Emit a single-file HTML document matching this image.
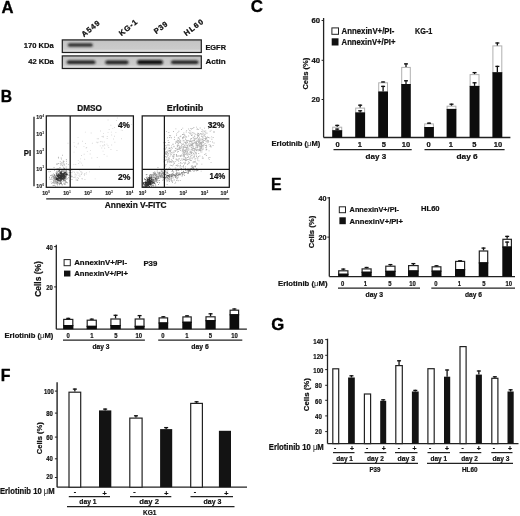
<!DOCTYPE html>
<html><head><meta charset="utf-8"><title>Figure</title>
<style>html,body{margin:0;padding:0;background:#fff;}svg{display:block;}text{font-family:"Liberation Sans", Arial, Helvetica, sans-serif;stroke-linejoin:round;}</style>
</head><body>
<svg width="520" height="516" viewBox="0 0 520 516">
<rect width="520" height="516" fill="#fff"/>
<defs><linearGradient id="blot" x1="0" y1="0" x2="0" y2="1"><stop offset="0" stop-color="#bdbdbd"/><stop offset="0.2" stop-color="#c6c6c6"/><stop offset="0.72" stop-color="#cbcbcb"/><stop offset="0.86" stop-color="#dcdcdc"/><stop offset="1" stop-color="#d2d2d2"/></linearGradient><filter id="bl" x="-30%" y="-100%" width="160%" height="300%"><feGaussianBlur stdDeviation="1.0"/></filter></defs>
<text x="1.60" y="13.40" font-size="17.0" font-weight="bold" fill="#000" stroke="#000" stroke-width="0.35" textLength="12.00" lengthAdjust="spacingAndGlyphs">A</text>
<text x="23.80" y="47.80" font-size="7.98" font-weight="bold" fill="#111" stroke="#111" stroke-width="0.22" textLength="30.00" lengthAdjust="spacingAndGlyphs">170 KDa</text>
<text x="28.20" y="64.00" font-size="7.98" font-weight="bold" fill="#111" stroke="#111" stroke-width="0.22" textLength="25.60" lengthAdjust="spacingAndGlyphs">42 KDa</text>
<rect x="62.30" y="39.90" width="139.00" height="12.60" fill="url(#blot)" stroke="#1e1e1e" stroke-width="1.2"/>
<rect x="62.30" y="55.90" width="139.00" height="12.60" fill="url(#blot)" stroke="#1e1e1e" stroke-width="1.2"/>
<rect x="67.80" y="43.50" width="25.00" height="3.00" rx="1.50" fill="#1c1c1c" filter="url(#bl)"/>
<rect x="66.80" y="60.50" width="28.70" height="3.40" rx="1.70" fill="#1c1c1c" filter="url(#bl)"/>
<rect x="105.30" y="60.40" width="23.20" height="3.80" rx="1.90" fill="#1c1c1c" filter="url(#bl)"/>
<rect x="137.00" y="59.90" width="26.00" height="4.60" rx="2.30" fill="#0a0a0a" filter="url(#bl)"/>
<rect x="171.00" y="60.40" width="27.50" height="3.60" rx="1.80" fill="#1c1c1c" filter="url(#bl)"/>
<text x="205.40" y="49.60" font-size="7.98" font-weight="bold" fill="#111" stroke="#111" stroke-width="0.22" textLength="20.60" lengthAdjust="spacingAndGlyphs">EGFR</text>
<text x="205.40" y="63.80" font-size="7.98" font-weight="bold" fill="#111" stroke="#111" stroke-width="0.22" textLength="20.20" lengthAdjust="spacingAndGlyphs">Actin</text>
<text transform="translate(84.00,37.20) rotate(-39)" x="0" y="0" font-size="7.6" font-weight="bold" fill="#111" stroke="#111" stroke-width="0.3" textLength="21.00" lengthAdjust="spacing">A549</text>
<text transform="translate(121.40,36.20) rotate(-39)" x="0" y="0" font-size="7.6" font-weight="bold" fill="#111" stroke="#111" stroke-width="0.3" textLength="21.00" lengthAdjust="spacing">KG-1</text>
<text transform="translate(156.20,34.30) rotate(-37)" x="0" y="0" font-size="7.6" font-weight="bold" fill="#111" stroke="#111" stroke-width="0.3" textLength="15.00" lengthAdjust="spacing">P39</text>
<text transform="translate(186.20,36.30) rotate(-37)" x="0" y="0" font-size="7.6" font-weight="bold" fill="#111" stroke="#111" stroke-width="0.3" textLength="22.00" lengthAdjust="spacing">HL60</text>
<text x="0.70" y="101.60" font-size="17.0" font-weight="bold" fill="#000" stroke="#000" stroke-width="0.35" textLength="11.30" lengthAdjust="spacingAndGlyphs">B</text>
<text x="77.30" y="111.40" font-size="8.19" font-weight="bold" fill="#111" stroke="#111" stroke-width="0.22" textLength="24.70" lengthAdjust="spacingAndGlyphs">DMSO</text>
<text x="166.70" y="111.30" font-size="8.19" font-weight="bold" fill="#111" stroke="#111" stroke-width="0.22" textLength="36.60" lengthAdjust="spacingAndGlyphs">Erlotinib</text>
<line x1="34.00" y1="116.80" x2="34.00" y2="186.30" stroke="#222" stroke-width="1.3"/>
<text x="23.80" y="155.60" font-size="8.4" font-weight="bold" fill="#111" stroke="#111" stroke-width="0.22" textLength="7.40" lengthAdjust="spacingAndGlyphs">PI</text>
<text x="36.30" y="119.00" font-size="5.2" font-weight="bold" fill="#222" stroke="#222" stroke-width="0.16">10<tspan dy="-2.4" dx="0.3" font-size="2.60" stroke-width="0.1">4</tspan></text>
<text x="36.30" y="136.40" font-size="5.2" font-weight="bold" fill="#222" stroke="#222" stroke-width="0.16">10<tspan dy="-2.4" dx="0.3" font-size="2.60" stroke-width="0.1">3</tspan></text>
<text x="36.30" y="153.50" font-size="5.2" font-weight="bold" fill="#222" stroke="#222" stroke-width="0.16">10<tspan dy="-2.4" dx="0.3" font-size="2.60" stroke-width="0.1">2</tspan></text>
<text x="36.30" y="170.70" font-size="5.2" font-weight="bold" fill="#222" stroke="#222" stroke-width="0.16">10<tspan dy="-2.4" dx="0.3" font-size="2.60" stroke-width="0.1">1</tspan></text>
<text x="36.30" y="188.40" font-size="5.2" font-weight="bold" fill="#222" stroke="#222" stroke-width="0.16">10<tspan dy="-2.4" dx="0.3" font-size="2.60" stroke-width="0.1">0</tspan></text>
<path d="M61.1 176.6h.9v.9h-.9zM63.3 172.7h.9v.9h-.9zM65.5 176.5h.9v.9h-.9zM57.8 174.7h.9v.9h-.9zM60.5 177.4h.9v.9h-.9zM59.3 176.9h.9v.9h-.9zM60.6 173.0h.9v.9h-.9zM61.9 178.2h.9v.9h-.9zM62.9 175.3h.9v.9h-.9zM54.7 177.2h.9v.9h-.9zM65.2 174.3h.9v.9h-.9zM59.8 175.4h.9v.9h-.9zM60.0 171.6h.9v.9h-.9zM59.4 175.0h.9v.9h-.9zM60.0 177.1h.9v.9h-.9zM62.5 176.3h.9v.9h-.9zM62.8 174.9h.9v.9h-.9zM60.2 176.4h.9v.9h-.9zM60.8 177.1h.9v.9h-.9zM62.0 174.5h.9v.9h-.9zM59.9 179.5h.9v.9h-.9zM57.1 178.9h.9v.9h-.9zM61.9 175.8h.9v.9h-.9zM59.6 178.1h.9v.9h-.9zM54.6 177.5h.9v.9h-.9zM57.7 176.2h.9v.9h-.9zM61.3 179.4h.9v.9h-.9zM58.1 178.6h.9v.9h-.9zM56.6 178.1h.9v.9h-.9zM61.1 176.5h.9v.9h-.9zM62.2 173.6h.9v.9h-.9zM60.4 176.9h.9v.9h-.9zM58.0 176.1h.9v.9h-.9zM61.9 175.8h.9v.9h-.9zM60.5 172.1h.9v.9h-.9zM61.5 178.8h.9v.9h-.9zM61.3 174.2h.9v.9h-.9zM61.3 171.5h.9v.9h-.9zM59.8 176.0h.9v.9h-.9zM58.2 176.8h.9v.9h-.9zM61.6 175.7h.9v.9h-.9zM59.8 173.6h.9v.9h-.9zM63.8 174.8h.9v.9h-.9zM61.8 184.4h.9v.9h-.9zM57.4 174.9h.9v.9h-.9zM58.9 178.0h.9v.9h-.9zM56.0 178.4h.9v.9h-.9zM61.1 176.1h.9v.9h-.9zM59.7 172.0h.9v.9h-.9zM57.4 175.3h.9v.9h-.9zM64.6 174.4h.9v.9h-.9zM62.6 174.5h.9v.9h-.9zM64.1 177.7h.9v.9h-.9zM60.7 174.1h.9v.9h-.9zM63.2 174.7h.9v.9h-.9zM60.8 183.3h.9v.9h-.9zM61.2 173.6h.9v.9h-.9zM61.0 173.4h.9v.9h-.9zM56.2 179.0h.9v.9h-.9zM61.4 175.3h.9v.9h-.9zM61.0 177.9h.9v.9h-.9zM62.7 174.9h.9v.9h-.9zM58.6 175.5h.9v.9h-.9zM60.8 176.4h.9v.9h-.9zM64.6 179.9h.9v.9h-.9zM60.0 179.7h.9v.9h-.9zM58.7 170.2h.9v.9h-.9zM60.2 175.9h.9v.9h-.9zM60.8 173.6h.9v.9h-.9zM60.1 178.0h.9v.9h-.9zM63.1 173.8h.9v.9h-.9zM64.4 178.3h.9v.9h-.9zM61.3 177.9h.9v.9h-.9zM63.2 176.4h.9v.9h-.9zM63.9 174.2h.9v.9h-.9zM65.0 172.8h.9v.9h-.9zM57.1 179.3h.9v.9h-.9zM64.3 176.7h.9v.9h-.9zM62.4 176.1h.9v.9h-.9zM59.9 175.6h.9v.9h-.9zM59.7 179.9h.9v.9h-.9zM63.9 174.2h.9v.9h-.9zM57.4 178.0h.9v.9h-.9zM61.0 173.7h.9v.9h-.9zM63.1 172.8h.9v.9h-.9zM55.9 177.7h.9v.9h-.9zM56.5 171.7h.9v.9h-.9zM58.6 180.0h.9v.9h-.9zM61.9 176.6h.9v.9h-.9zM64.1 173.0h.9v.9h-.9zM66.8 174.3h.9v.9h-.9zM56.8 179.8h.9v.9h-.9zM59.6 177.6h.9v.9h-.9zM59.3 170.5h.9v.9h-.9zM64.2 172.9h.9v.9h-.9zM62.3 176.2h.9v.9h-.9zM60.7 180.1h.9v.9h-.9zM63.5 178.7h.9v.9h-.9zM62.3 178.5h.9v.9h-.9zM58.7 174.4h.9v.9h-.9zM56.1 173.5h.9v.9h-.9zM62.2 176.3h.9v.9h-.9zM61.4 175.5h.9v.9h-.9zM61.5 177.8h.9v.9h-.9zM59.9 176.2h.9v.9h-.9zM57.7 178.6h.9v.9h-.9zM57.6 174.3h.9v.9h-.9zM64.1 174.7h.9v.9h-.9zM59.6 175.6h.9v.9h-.9zM57.5 179.1h.9v.9h-.9zM64.4 174.5h.9v.9h-.9zM61.8 174.9h.9v.9h-.9zM66.2 172.9h.9v.9h-.9zM60.7 175.9h.9v.9h-.9zM60.4 178.1h.9v.9h-.9zM57.6 179.4h.9v.9h-.9zM63.2 172.8h.9v.9h-.9zM66.2 170.6h.9v.9h-.9zM60.7 180.4h.9v.9h-.9zM58.9 176.9h.9v.9h-.9zM63.3 176.7h.9v.9h-.9zM59.0 178.1h.9v.9h-.9zM59.3 175.5h.9v.9h-.9zM58.8 175.3h.9v.9h-.9zM61.2 175.9h.9v.9h-.9zM63.6 174.6h.9v.9h-.9zM61.4 177.0h.9v.9h-.9zM61.3 172.2h.9v.9h-.9zM58.9 175.7h.9v.9h-.9zM61.3 175.3h.9v.9h-.9zM57.3 182.4h.9v.9h-.9zM54.2 174.4h.9v.9h-.9zM63.1 175.4h.9v.9h-.9zM58.5 176.1h.9v.9h-.9zM62.5 175.7h.9v.9h-.9zM61.3 174.2h.9v.9h-.9zM64.3 174.4h.9v.9h-.9zM64.5 177.3h.9v.9h-.9zM63.5 174.9h.9v.9h-.9zM60.8 176.9h.9v.9h-.9zM59.3 177.8h.9v.9h-.9zM57.9 176.0h.9v.9h-.9zM60.1 177.8h.9v.9h-.9zM57.6 177.6h.9v.9h-.9zM58.3 175.5h.9v.9h-.9zM60.3 176.1h.9v.9h-.9zM60.9 175.2h.9v.9h-.9zM60.7 177.9h.9v.9h-.9zM55.8 179.2h.9v.9h-.9zM59.8 175.2h.9v.9h-.9zM62.9 178.1h.9v.9h-.9zM64.5 175.8h.9v.9h-.9zM63.5 177.2h.9v.9h-.9zM59.8 178.2h.9v.9h-.9zM58.7 177.1h.9v.9h-.9zM65.0 171.8h.9v.9h-.9zM62.1 174.2h.9v.9h-.9zM66.2 174.5h.9v.9h-.9zM66.0 172.5h.9v.9h-.9zM56.8 174.9h.9v.9h-.9zM61.5 175.3h.9v.9h-.9zM60.0 172.8h.9v.9h-.9zM62.2 175.3h.9v.9h-.9zM60.5 173.0h.9v.9h-.9zM59.6 173.5h.9v.9h-.9zM61.2 175.9h.9v.9h-.9zM56.8 178.5h.9v.9h-.9zM58.2 173.4h.9v.9h-.9zM59.7 178.6h.9v.9h-.9zM63.5 179.5h.9v.9h-.9zM57.7 174.3h.9v.9h-.9zM64.3 178.1h.9v.9h-.9zM61.8 173.4h.9v.9h-.9zM60.8 174.6h.9v.9h-.9zM61.2 175.1h.9v.9h-.9zM59.1 173.4h.9v.9h-.9zM61.1 179.0h.9v.9h-.9zM60.8 177.1h.9v.9h-.9zM58.5 175.6h.9v.9h-.9zM61.2 174.9h.9v.9h-.9zM58.8 173.4h.9v.9h-.9zM61.6 174.4h.9v.9h-.9zM58.5 179.9h.9v.9h-.9zM60.7 171.5h.9v.9h-.9zM58.2 176.6h.9v.9h-.9zM59.0 177.5h.9v.9h-.9zM61.4 178.1h.9v.9h-.9zM60.8 179.3h.9v.9h-.9zM60.8 174.7h.9v.9h-.9zM58.3 175.7h.9v.9h-.9zM58.5 178.6h.9v.9h-.9zM58.1 176.8h.9v.9h-.9zM63.5 173.2h.9v.9h-.9zM62.0 177.8h.9v.9h-.9zM59.8 180.9h.9v.9h-.9zM60.9 176.4h.9v.9h-.9zM56.5 178.3h.9v.9h-.9zM65.7 173.9h.9v.9h-.9zM54.6 175.4h.9v.9h-.9zM61.8 175.1h.9v.9h-.9zM60.7 173.2h.9v.9h-.9zM59.9 182.6h.9v.9h-.9zM62.2 176.7h.9v.9h-.9zM63.2 174.5h.9v.9h-.9zM61.5 174.9h.9v.9h-.9zM58.2 171.2h.9v.9h-.9zM63.8 175.6h.9v.9h-.9zM63.0 178.5h.9v.9h-.9zM60.5 174.2h.9v.9h-.9zM61.1 177.4h.9v.9h-.9zM63.0 176.2h.9v.9h-.9zM56.4 175.0h.9v.9h-.9zM63.7 176.2h.9v.9h-.9zM61.0 179.2h.9v.9h-.9zM58.2 178.3h.9v.9h-.9zM61.4 175.3h.9v.9h-.9zM65.7 174.4h.9v.9h-.9zM61.1 171.7h.9v.9h-.9zM59.4 177.0h.9v.9h-.9zM63.6 176.6h.9v.9h-.9zM58.0 174.6h.9v.9h-.9zM61.5 177.9h.9v.9h-.9zM60.3 175.1h.9v.9h-.9zM52.4 176.4h.9v.9h-.9zM60.9 175.5h.9v.9h-.9zM56.9 176.1h.9v.9h-.9zM59.3 177.7h.9v.9h-.9zM55.6 176.5h.9v.9h-.9zM58.1 180.4h.9v.9h-.9zM57.4 176.4h.9v.9h-.9zM63.1 175.2h.9v.9h-.9zM64.0 172.1h.9v.9h-.9zM60.1 175.5h.9v.9h-.9zM64.7 176.2h.9v.9h-.9zM60.2 176.8h.9v.9h-.9zM55.4 178.6h.9v.9h-.9zM59.5 173.6h.9v.9h-.9zM63.1 177.2h.9v.9h-.9zM60.4 178.0h.9v.9h-.9zM60.9 174.9h.9v.9h-.9zM62.3 175.4h.9v.9h-.9zM57.2 175.7h.9v.9h-.9zM55.7 176.8h.9v.9h-.9zM59.1 175.0h.9v.9h-.9zM60.5 177.0h.9v.9h-.9zM60.1 177.1h.9v.9h-.9zM62.1 173.0h.9v.9h-.9zM65.7 174.3h.9v.9h-.9zM60.5 178.1h.9v.9h-.9zM62.5 175.1h.9v.9h-.9zM64.2 176.2h.9v.9h-.9zM62.0 174.3h.9v.9h-.9zM63.0 174.0h.9v.9h-.9zM60.2 177.5h.9v.9h-.9zM62.4 174.7h.9v.9h-.9zM66.5 173.9h.9v.9h-.9zM61.1 172.5h.9v.9h-.9zM60.8 179.5h.9v.9h-.9zM61.2 173.6h.9v.9h-.9zM63.5 173.5h.9v.9h-.9z" fill="#000" fill-opacity="0.7"/>
<path d="M51.2 176.8h.9v.9h-.9zM62.3 175.3h.9v.9h-.9zM62.6 169.9h.9v.9h-.9zM64.7 174.6h.9v.9h-.9zM60.9 171.3h.9v.9h-.9zM51.6 178.8h.9v.9h-.9zM56.5 179.1h.9v.9h-.9zM60.7 182.3h.9v.9h-.9zM57.1 181.3h.9v.9h-.9zM65.0 174.6h.9v.9h-.9zM63.3 180.4h.9v.9h-.9zM57.9 174.5h.9v.9h-.9zM57.7 169.8h.9v.9h-.9zM55.1 178.6h.9v.9h-.9zM55.6 178.9h.9v.9h-.9zM58.6 183.0h.9v.9h-.9zM66.0 181.6h.9v.9h-.9zM58.6 172.4h.9v.9h-.9zM67.0 182.3h.9v.9h-.9zM67.3 178.3h.9v.9h-.9zM55.9 183.3h.9v.9h-.9zM58.2 179.7h.9v.9h-.9zM65.2 183.4h.9v.9h-.9zM54.5 181.1h.9v.9h-.9zM56.7 177.2h.9v.9h-.9zM64.3 174.5h.9v.9h-.9zM61.7 170.1h.9v.9h-.9zM65.2 175.3h.9v.9h-.9zM59.8 176.6h.9v.9h-.9zM59.6 178.6h.9v.9h-.9zM65.0 174.9h.9v.9h-.9zM56.2 175.2h.9v.9h-.9zM63.8 179.7h.9v.9h-.9zM63.3 170.4h.9v.9h-.9zM60.1 180.6h.9v.9h-.9zM54.2 174.4h.9v.9h-.9zM60.5 178.1h.9v.9h-.9zM60.7 173.0h.9v.9h-.9zM61.9 175.8h.9v.9h-.9zM59.2 174.8h.9v.9h-.9zM57.9 169.4h.9v.9h-.9zM51.1 178.5h.9v.9h-.9zM56.4 179.7h.9v.9h-.9zM61.7 178.3h.9v.9h-.9zM53.2 175.6h.9v.9h-.9zM50.2 175.0h.9v.9h-.9zM53.2 178.1h.9v.9h-.9zM55.7 179.1h.9v.9h-.9zM57.9 175.8h.9v.9h-.9zM54.1 177.7h.9v.9h-.9zM62.5 178.7h.9v.9h-.9zM68.7 174.9h.9v.9h-.9zM60.7 179.5h.9v.9h-.9zM63.2 170.8h.9v.9h-.9zM61.2 176.4h.9v.9h-.9zM54.9 179.7h.9v.9h-.9zM56.0 173.8h.9v.9h-.9zM57.5 182.3h.9v.9h-.9zM63.1 175.1h.9v.9h-.9zM54.2 179.0h.9v.9h-.9zM68.0 177.2h.9v.9h-.9zM63.7 177.5h.9v.9h-.9zM53.2 185.2h.9v.9h-.9zM65.4 178.1h.9v.9h-.9zM67.6 174.6h.9v.9h-.9zM54.1 175.8h.9v.9h-.9zM63.1 173.1h.9v.9h-.9zM54.4 185.0h.9v.9h-.9zM59.4 174.2h.9v.9h-.9zM53.1 181.9h.9v.9h-.9zM62.6 176.8h.9v.9h-.9zM55.3 186.2h.9v.9h-.9zM63.2 178.4h.9v.9h-.9zM68.8 170.0h.9v.9h-.9zM59.2 181.3h.9v.9h-.9zM64.3 176.1h.9v.9h-.9zM60.0 176.3h.9v.9h-.9zM61.1 181.7h.9v.9h-.9zM63.3 176.7h.9v.9h-.9zM65.1 170.2h.9v.9h-.9zM57.2 184.1h.9v.9h-.9zM61.6 174.7h.9v.9h-.9zM62.4 177.7h.9v.9h-.9zM51.0 176.9h.9v.9h-.9zM66.4 172.3h.9v.9h-.9zM66.0 168.8h.9v.9h-.9zM54.0 177.1h.9v.9h-.9zM63.2 166.7h.9v.9h-.9zM64.2 182.8h.9v.9h-.9zM58.9 177.1h.9v.9h-.9zM66.4 173.4h.9v.9h-.9zM62.9 179.5h.9v.9h-.9zM60.9 175.8h.9v.9h-.9zM67.0 174.1h.9v.9h-.9zM62.4 169.5h.9v.9h-.9zM63.9 175.0h.9v.9h-.9zM53.3 179.9h.9v.9h-.9zM54.4 182.9h.9v.9h-.9zM64.8 174.3h.9v.9h-.9zM53.3 175.8h.9v.9h-.9zM56.8 171.4h.9v.9h-.9zM53.4 177.3h.9v.9h-.9zM60.5 179.6h.9v.9h-.9zM55.4 181.9h.9v.9h-.9zM67.3 173.5h.9v.9h-.9zM51.7 174.3h.9v.9h-.9zM54.1 169.9h.9v.9h-.9zM57.8 175.8h.9v.9h-.9zM64.1 172.6h.9v.9h-.9zM52.8 179.4h.9v.9h-.9zM60.4 178.1h.9v.9h-.9zM58.6 177.1h.9v.9h-.9zM59.7 172.2h.9v.9h-.9zM60.0 173.2h.9v.9h-.9zM58.2 178.7h.9v.9h-.9zM60.9 176.5h.9v.9h-.9zM58.1 177.9h.9v.9h-.9zM66.1 182.0h.9v.9h-.9zM58.9 176.6h.9v.9h-.9zM57.4 179.2h.9v.9h-.9zM57.8 174.3h.9v.9h-.9zM60.6 175.0h.9v.9h-.9zM70.1 172.0h.9v.9h-.9zM58.9 180.0h.9v.9h-.9zM60.8 175.7h.9v.9h-.9zM66.6 173.9h.9v.9h-.9zM51.4 183.1h.9v.9h-.9zM49.0 176.8h.9v.9h-.9zM48.5 171.3h.9v.9h-.9zM63.8 183.8h.9v.9h-.9zM71.4 172.3h.9v.9h-.9zM61.3 175.7h.9v.9h-.9zM61.4 168.7h.9v.9h-.9zM56.4 174.1h.9v.9h-.9zM63.3 173.2h.9v.9h-.9zM62.3 178.9h.9v.9h-.9zM54.8 181.1h.9v.9h-.9zM65.8 175.9h.9v.9h-.9zM53.2 181.0h.9v.9h-.9zM69.1 180.4h.9v.9h-.9zM63.7 170.0h.9v.9h-.9zM54.0 175.4h.9v.9h-.9zM55.8 180.9h.9v.9h-.9zM66.0 178.6h.9v.9h-.9zM55.2 180.0h.9v.9h-.9zM65.4 177.4h.9v.9h-.9zM53.9 178.9h.9v.9h-.9zM60.8 171.4h.9v.9h-.9zM62.9 180.6h.9v.9h-.9zM61.1 182.6h.9v.9h-.9zM59.1 183.8h.9v.9h-.9zM59.9 175.1h.9v.9h-.9zM49.8 179.2h.9v.9h-.9zM56.4 174.5h.9v.9h-.9zM57.7 177.5h.9v.9h-.9zM63.7 176.7h.9v.9h-.9zM55.7 182.0h.9v.9h-.9zM64.0 168.1h.9v.9h-.9zM58.9 178.4h.9v.9h-.9zM55.2 180.3h.9v.9h-.9zM65.7 173.3h.9v.9h-.9zM66.6 172.2h.9v.9h-.9zM58.6 177.0h.9v.9h-.9zM57.3 181.2h.9v.9h-.9zM60.1 177.3h.9v.9h-.9zM57.4 179.6h.9v.9h-.9zM57.2 176.0h.9v.9h-.9zM67.0 173.6h.9v.9h-.9zM61.2 175.5h.9v.9h-.9zM56.3 170.7h.9v.9h-.9zM62.2 177.4h.9v.9h-.9zM59.0 176.4h.9v.9h-.9zM65.1 177.2h.9v.9h-.9zM63.1 174.0h.9v.9h-.9zM58.1 177.8h.9v.9h-.9zM60.6 177.3h.9v.9h-.9zM69.7 170.0h.9v.9h-.9zM60.7 174.5h.9v.9h-.9zM55.5 172.5h.9v.9h-.9zM71.8 176.3h.9v.9h-.9zM56.8 172.6h.9v.9h-.9zM54.6 179.2h.9v.9h-.9zM63.8 176.9h.9v.9h-.9zM56.9 180.6h.9v.9h-.9zM58.9 180.0h.9v.9h-.9zM62.6 178.2h.9v.9h-.9zM61.7 180.9h.9v.9h-.9zM57.3 180.0h.9v.9h-.9zM55.4 175.9h.9v.9h-.9zM65.0 174.3h.9v.9h-.9zM56.1 178.1h.9v.9h-.9zM56.4 177.1h.9v.9h-.9zM68.7 172.0h.9v.9h-.9zM60.4 182.6h.9v.9h-.9zM64.5 170.8h.9v.9h-.9zM63.8 171.2h.9v.9h-.9zM60.6 179.5h.9v.9h-.9zM55.0 182.6h.9v.9h-.9zM65.5 181.2h.9v.9h-.9zM64.6 177.9h.9v.9h-.9zM64.2 174.9h.9v.9h-.9zM59.5 175.9h.9v.9h-.9zM65.2 174.1h.9v.9h-.9zM65.2 172.5h.9v.9h-.9zM52.8 176.2h.9v.9h-.9zM65.7 172.9h.9v.9h-.9zM60.2 176.0h.9v.9h-.9zM57.0 178.0h.9v.9h-.9zM57.7 176.7h.9v.9h-.9zM70.8 176.3h.9v.9h-.9zM65.2 176.1h.9v.9h-.9zM54.3 184.7h.9v.9h-.9zM59.0 175.1h.9v.9h-.9zM57.2 174.6h.9v.9h-.9zM58.5 176.7h.9v.9h-.9zM58.2 179.2h.9v.9h-.9zM53.2 180.2h.9v.9h-.9zM63.0 174.0h.9v.9h-.9zM57.8 182.4h.9v.9h-.9zM58.9 178.9h.9v.9h-.9zM55.4 176.0h.9v.9h-.9zM56.0 177.9h.9v.9h-.9zM61.6 173.0h.9v.9h-.9zM61.7 176.4h.9v.9h-.9zM54.8 175.7h.9v.9h-.9zM55.6 179.2h.9v.9h-.9zM59.2 180.3h.9v.9h-.9zM63.8 174.3h.9v.9h-.9zM58.5 174.1h.9v.9h-.9zM59.6 174.6h.9v.9h-.9zM58.7 178.3h.9v.9h-.9zM59.7 179.1h.9v.9h-.9zM62.3 178.7h.9v.9h-.9zM52.0 181.9h.9v.9h-.9zM63.8 168.7h.9v.9h-.9zM59.4 183.2h.9v.9h-.9zM58.1 179.5h.9v.9h-.9zM66.1 174.3h.9v.9h-.9zM61.3 177.2h.9v.9h-.9zM57.9 174.0h.9v.9h-.9zM56.8 177.8h.9v.9h-.9zM53.9 182.2h.9v.9h-.9zM62.6 179.3h.9v.9h-.9zM64.8 173.7h.9v.9h-.9zM50.0 170.9h.9v.9h-.9zM64.9 172.4h.9v.9h-.9zM55.9 181.2h.9v.9h-.9zM59.3 182.7h.9v.9h-.9zM63.3 177.5h.9v.9h-.9zM64.7 183.9h.9v.9h-.9zM65.4 179.0h.9v.9h-.9zM59.4 182.9h.9v.9h-.9zM57.4 182.6h.9v.9h-.9zM49.5 178.5h.9v.9h-.9zM56.5 182.8h.9v.9h-.9zM56.6 181.8h.9v.9h-.9zM52.9 179.6h.9v.9h-.9zM62.2 177.7h.9v.9h-.9zM57.9 180.1h.9v.9h-.9zM50.7 181.4h.9v.9h-.9zM69.7 169.5h.9v.9h-.9zM55.9 178.7h.9v.9h-.9zM55.1 181.2h.9v.9h-.9zM64.0 172.3h.9v.9h-.9zM65.6 175.2h.9v.9h-.9zM51.3 175.0h.9v.9h-.9zM53.2 180.4h.9v.9h-.9zM52.4 175.2h.9v.9h-.9zM63.5 172.4h.9v.9h-.9zM59.5 179.3h.9v.9h-.9zM56.5 179.4h.9v.9h-.9zM59.5 176.8h.9v.9h-.9zM64.9 173.7h.9v.9h-.9zM57.2 185.4h.9v.9h-.9zM56.1 175.0h.9v.9h-.9zM55.9 183.4h.9v.9h-.9zM65.7 166.6h.9v.9h-.9zM66.3 170.5h.9v.9h-.9zM64.0 174.7h.9v.9h-.9zM57.6 175.0h.9v.9h-.9zM62.9 175.7h.9v.9h-.9zM52.6 185.1h.9v.9h-.9zM58.6 172.9h.9v.9h-.9zM54.2 180.6h.9v.9h-.9zM53.6 179.8h.9v.9h-.9zM53.1 173.6h.9v.9h-.9zM58.0 177.5h.9v.9h-.9zM60.6 173.1h.9v.9h-.9zM65.3 178.7h.9v.9h-.9zM59.2 173.8h.9v.9h-.9zM59.2 184.4h.9v.9h-.9zM61.5 173.6h.9v.9h-.9zM63.1 182.7h.9v.9h-.9zM65.7 175.1h.9v.9h-.9zM56.9 180.9h.9v.9h-.9zM59.6 180.9h.9v.9h-.9zM71.3 174.7h.9v.9h-.9zM65.1 180.5h.9v.9h-.9zM58.3 176.6h.9v.9h-.9zM61.0 171.0h.9v.9h-.9zM56.7 168.1h.9v.9h-.9zM60.9 174.6h.9v.9h-.9zM59.2 180.6h.9v.9h-.9zM60.8 177.8h.9v.9h-.9zM60.8 176.7h.9v.9h-.9zM56.5 177.9h.9v.9h-.9zM54.0 178.4h.9v.9h-.9zM59.8 175.8h.9v.9h-.9zM64.5 175.3h.9v.9h-.9zM59.0 170.2h.9v.9h-.9zM63.2 177.6h.9v.9h-.9zM59.0 171.5h.9v.9h-.9zM70.1 169.1h.9v.9h-.9zM59.6 174.5h.9v.9h-.9zM63.3 173.0h.9v.9h-.9zM65.8 168.5h.9v.9h-.9zM57.8 173.6h.9v.9h-.9zM60.4 175.6h.9v.9h-.9zM62.0 171.0h.9v.9h-.9zM71.5 179.0h.9v.9h-.9zM60.3 174.9h.9v.9h-.9zM60.0 174.1h.9v.9h-.9zM59.1 175.2h.9v.9h-.9zM52.8 177.5h.9v.9h-.9zM59.6 166.9h.9v.9h-.9zM58.3 177.0h.9v.9h-.9zM53.4 182.8h.9v.9h-.9zM56.3 173.2h.9v.9h-.9zM52.7 181.9h.9v.9h-.9zM53.3 176.5h.9v.9h-.9zM59.8 176.8h.9v.9h-.9zM56.7 180.6h.9v.9h-.9zM65.1 175.2h.9v.9h-.9zM54.6 182.4h.9v.9h-.9zM59.5 174.2h.9v.9h-.9zM63.8 177.8h.9v.9h-.9zM64.9 171.5h.9v.9h-.9zM64.3 175.3h.9v.9h-.9zM62.1 178.2h.9v.9h-.9zM59.6 175.9h.9v.9h-.9zM57.1 173.5h.9v.9h-.9zM65.7 175.4h.9v.9h-.9zM55.0 175.7h.9v.9h-.9zM60.2 173.0h.9v.9h-.9zM57.3 174.1h.9v.9h-.9zM62.5 178.6h.9v.9h-.9zM58.4 177.2h.9v.9h-.9zM64.2 164.6h.9v.9h-.9zM58.6 180.9h.9v.9h-.9zM64.9 182.0h.9v.9h-.9zM64.5 181.2h.9v.9h-.9zM61.2 173.6h.9v.9h-.9zM61.8 175.9h.9v.9h-.9zM62.6 177.1h.9v.9h-.9zM65.6 176.6h.9v.9h-.9z" fill="#000" fill-opacity="0.35"/>
<path d="M61.1 158.7h.9v.9h-.9zM57.1 163.6h.9v.9h-.9zM63.6 160.9h.9v.9h-.9zM63.1 171.5h.9v.9h-.9zM56.3 163.6h.9v.9h-.9zM59.7 163.2h.9v.9h-.9zM61.9 162.5h.9v.9h-.9zM61.0 170.5h.9v.9h-.9zM62.8 160.6h.9v.9h-.9zM63.7 163.4h.9v.9h-.9zM62.9 161.2h.9v.9h-.9zM60.6 163.5h.9v.9h-.9zM56.2 163.8h.9v.9h-.9zM63.1 167.8h.9v.9h-.9zM65.9 159.0h.9v.9h-.9zM67.9 163.9h.9v.9h-.9zM60.8 169.6h.9v.9h-.9zM60.8 162.2h.9v.9h-.9zM66.0 163.3h.9v.9h-.9zM66.0 160.8h.9v.9h-.9zM62.1 154.8h.9v.9h-.9zM63.5 163.6h.9v.9h-.9zM58.3 168.1h.9v.9h-.9zM63.0 162.3h.9v.9h-.9zM58.1 157.5h.9v.9h-.9zM60.4 164.9h.9v.9h-.9zM60.5 164.2h.9v.9h-.9zM59.3 167.4h.9v.9h-.9zM53.6 167.1h.9v.9h-.9zM58.1 163.0h.9v.9h-.9zM62.1 165.3h.9v.9h-.9zM60.7 157.6h.9v.9h-.9zM59.6 167.8h.9v.9h-.9zM62.5 164.6h.9v.9h-.9zM63.4 167.7h.9v.9h-.9zM63.9 167.7h.9v.9h-.9zM58.1 162.9h.9v.9h-.9zM61.0 163.4h.9v.9h-.9zM59.8 160.9h.9v.9h-.9zM57.9 156.7h.9v.9h-.9zM162.4 180.1h.9v.9h-.9zM164.1 179.3h.9v.9h-.9zM172.0 174.9h.9v.9h-.9zM175.6 177.3h.9v.9h-.9zM175.2 181.8h.9v.9h-.9zM171.4 177.4h.9v.9h-.9zM166.7 184.1h.9v.9h-.9zM176.1 177.6h.9v.9h-.9zM171.3 181.2h.9v.9h-.9zM171.6 175.5h.9v.9h-.9zM172.2 180.5h.9v.9h-.9zM169.1 173.9h.9v.9h-.9zM168.5 178.3h.9v.9h-.9zM168.9 176.5h.9v.9h-.9zM164.6 172.2h.9v.9h-.9zM172.5 172.8h.9v.9h-.9zM171.7 180.5h.9v.9h-.9zM177.2 177.6h.9v.9h-.9zM163.7 182.4h.9v.9h-.9zM177.9 176.6h.9v.9h-.9zM170.1 168.5h.9v.9h-.9zM171.3 177.9h.9v.9h-.9zM167.7 176.0h.9v.9h-.9zM167.7 176.2h.9v.9h-.9zM164.4 177.0h.9v.9h-.9zM176.0 174.0h.9v.9h-.9zM170.4 174.3h.9v.9h-.9zM176.2 180.0h.9v.9h-.9zM176.3 177.6h.9v.9h-.9zM169.2 175.5h.9v.9h-.9zM170.6 176.0h.9v.9h-.9zM170.8 180.2h.9v.9h-.9zM177.2 177.2h.9v.9h-.9zM172.7 177.5h.9v.9h-.9zM172.2 173.2h.9v.9h-.9zM175.3 175.1h.9v.9h-.9zM171.0 173.7h.9v.9h-.9zM181.0 169.5h.9v.9h-.9zM167.9 180.4h.9v.9h-.9zM178.0 174.9h.9v.9h-.9zM178.7 174.5h.9v.9h-.9zM165.9 175.1h.9v.9h-.9zM176.6 178.5h.9v.9h-.9zM174.5 182.9h.9v.9h-.9zM176.6 178.0h.9v.9h-.9zM166.6 180.8h.9v.9h-.9zM172.5 173.1h.9v.9h-.9zM167.3 178.3h.9v.9h-.9zM170.5 177.9h.9v.9h-.9zM179.8 180.1h.9v.9h-.9zM171.3 177.1h.9v.9h-.9zM160.4 176.1h.9v.9h-.9zM165.1 178.0h.9v.9h-.9zM166.2 176.7h.9v.9h-.9zM177.8 180.4h.9v.9h-.9zM168.9 179.5h.9v.9h-.9zM164.5 179.3h.9v.9h-.9zM177.6 176.5h.9v.9h-.9zM173.7 179.2h.9v.9h-.9zM173.4 175.2h.9v.9h-.9zM167.6 175.0h.9v.9h-.9zM178.0 170.2h.9v.9h-.9zM172.0 180.6h.9v.9h-.9zM162.5 180.2h.9v.9h-.9zM166.7 179.9h.9v.9h-.9zM167.9 177.8h.9v.9h-.9zM172.1 182.0h.9v.9h-.9zM175.2 173.4h.9v.9h-.9zM169.0 181.1h.9v.9h-.9zM168.6 175.0h.9v.9h-.9zM182.6 173.7h.9v.9h-.9zM171.8 173.3h.9v.9h-.9zM169.4 177.7h.9v.9h-.9zM172.0 176.1h.9v.9h-.9zM166.1 179.3h.9v.9h-.9zM174.3 174.8h.9v.9h-.9zM176.0 172.0h.9v.9h-.9zM169.4 179.1h.9v.9h-.9zM177.6 179.9h.9v.9h-.9zM170.9 179.4h.9v.9h-.9zM173.4 176.5h.9v.9h-.9zM168.5 178.8h.9v.9h-.9zM167.2 172.6h.9v.9h-.9zM164.4 177.3h.9v.9h-.9zM173.7 180.2h.9v.9h-.9zM170.8 178.5h.9v.9h-.9zM170.3 174.6h.9v.9h-.9zM166.9 180.4h.9v.9h-.9zM166.2 177.6h.9v.9h-.9zM169.3 179.6h.9v.9h-.9zM175.4 167.4h.9v.9h-.9zM190.9 166.1h.9v.9h-.9zM195.1 151.9h.9v.9h-.9zM190.8 147.3h.9v.9h-.9zM192.4 143.5h.9v.9h-.9zM190.2 153.6h.9v.9h-.9zM186.3 153.2h.9v.9h-.9zM189.2 141.6h.9v.9h-.9zM189.3 132.8h.9v.9h-.9zM176.0 170.6h.9v.9h-.9zM179.0 147.3h.9v.9h-.9zM183.0 149.3h.9v.9h-.9zM193.1 153.2h.9v.9h-.9zM197.7 139.4h.9v.9h-.9zM178.5 169.4h.9v.9h-.9zM186.2 136.6h.9v.9h-.9zM171.9 170.6h.9v.9h-.9zM170.8 147.1h.9v.9h-.9zM172.3 143.8h.9v.9h-.9zM177.8 144.6h.9v.9h-.9zM180.7 155.7h.9v.9h-.9zM177.2 149.4h.9v.9h-.9zM175.1 142.9h.9v.9h-.9zM190.7 160.0h.9v.9h-.9zM170.6 161.5h.9v.9h-.9zM183.4 155.0h.9v.9h-.9zM189.9 141.1h.9v.9h-.9zM200.0 142.4h.9v.9h-.9zM187.4 147.5h.9v.9h-.9zM184.1 163.7h.9v.9h-.9zM185.3 143.5h.9v.9h-.9zM188.2 135.6h.9v.9h-.9zM189.5 149.3h.9v.9h-.9zM169.5 152.4h.9v.9h-.9zM187.8 152.7h.9v.9h-.9zM185.7 148.9h.9v.9h-.9zM168.5 159.1h.9v.9h-.9zM176.8 164.4h.9v.9h-.9zM203.1 141.8h.9v.9h-.9zM186.8 145.4h.9v.9h-.9zM184.7 152.6h.9v.9h-.9zM204.9 139.7h.9v.9h-.9zM190.4 139.8h.9v.9h-.9zM170.6 149.3h.9v.9h-.9zM201.4 138.4h.9v.9h-.9zM184.5 159.1h.9v.9h-.9zM182.5 145.9h.9v.9h-.9zM185.4 143.4h.9v.9h-.9zM181.6 163.2h.9v.9h-.9zM192.4 132.0h.9v.9h-.9zM192.3 146.2h.9v.9h-.9zM191.1 135.2h.9v.9h-.9zM201.1 142.1h.9v.9h-.9zM206.2 140.5h.9v.9h-.9zM205.8 148.5h.9v.9h-.9zM186.3 150.4h.9v.9h-.9zM193.9 155.5h.9v.9h-.9zM193.7 148.0h.9v.9h-.9zM182.8 146.9h.9v.9h-.9zM192.8 161.4h.9v.9h-.9zM204.0 127.7h.9v.9h-.9zM193.3 145.7h.9v.9h-.9zM183.5 162.1h.9v.9h-.9zM181.7 143.8h.9v.9h-.9zM183.8 155.1h.9v.9h-.9zM179.4 148.8h.9v.9h-.9zM182.9 150.7h.9v.9h-.9zM176.9 139.8h.9v.9h-.9zM183.4 154.6h.9v.9h-.9zM196.5 145.3h.9v.9h-.9zM180.9 158.5h.9v.9h-.9zM185.8 159.9h.9v.9h-.9zM208.0 157.5h.9v.9h-.9zM183.4 132.6h.9v.9h-.9zM173.4 146.4h.9v.9h-.9zM191.4 133.6h.9v.9h-.9zM167.9 158.3h.9v.9h-.9zM186.8 159.4h.9v.9h-.9zM204.0 130.8h.9v.9h-.9zM178.2 143.1h.9v.9h-.9zM194.2 135.6h.9v.9h-.9zM182.8 147.3h.9v.9h-.9zM177.8 155.5h.9v.9h-.9zM168.9 147.4h.9v.9h-.9zM163.6 167.7h.9v.9h-.9zM175.7 165.1h.9v.9h-.9zM189.7 150.8h.9v.9h-.9zM173.5 145.7h.9v.9h-.9zM191.6 154.8h.9v.9h-.9zM190.0 155.9h.9v.9h-.9zM191.8 148.4h.9v.9h-.9zM175.1 141.7h.9v.9h-.9zM183.5 152.4h.9v.9h-.9zM177.6 144.8h.9v.9h-.9zM169.5 148.0h.9v.9h-.9zM199.2 149.5h.9v.9h-.9zM199.6 145.9h.9v.9h-.9zM200.2 148.5h.9v.9h-.9zM200.1 151.4h.9v.9h-.9zM183.5 153.3h.9v.9h-.9zM195.0 147.5h.9v.9h-.9zM183.2 170.6h.9v.9h-.9zM192.2 149.8h.9v.9h-.9zM194.9 160.8h.9v.9h-.9zM175.7 159.1h.9v.9h-.9zM198.2 135.1h.9v.9h-.9zM195.2 133.8h.9v.9h-.9zM191.3 143.8h.9v.9h-.9zM186.2 129.9h.9v.9h-.9zM204.7 133.4h.9v.9h-.9zM184.8 149.4h.9v.9h-.9zM169.0 157.8h.9v.9h-.9zM163.6 142.4h.9v.9h-.9zM182.3 127.7h.9v.9h-.9zM193.6 151.7h.9v.9h-.9zM165.1 156.1h.9v.9h-.9zM209.5 146.2h.9v.9h-.9zM185.3 142.1h.9v.9h-.9zM206.9 136.5h.9v.9h-.9zM191.1 128.6h.9v.9h-.9zM178.6 148.6h.9v.9h-.9zM186.8 146.5h.9v.9h-.9zM182.3 159.7h.9v.9h-.9zM187.5 168.3h.9v.9h-.9zM189.4 158.3h.9v.9h-.9zM184.2 134.3h.9v.9h-.9zM202.2 136.3h.9v.9h-.9zM176.3 156.0h.9v.9h-.9zM191.2 138.0h.9v.9h-.9zM191.0 152.6h.9v.9h-.9zM193.8 161.8h.9v.9h-.9zM196.9 135.3h.9v.9h-.9zM189.7 159.8h.9v.9h-.9zM210.4 145.7h.9v.9h-.9zM177.4 144.6h.9v.9h-.9zM187.3 169.6h.9v.9h-.9zM205.4 153.3h.9v.9h-.9zM172.9 164.3h.9v.9h-.9zM186.7 152.2h.9v.9h-.9zM194.0 156.7h.9v.9h-.9zM188.1 155.7h.9v.9h-.9zM174.1 162.9h.9v.9h-.9zM192.0 142.9h.9v.9h-.9zM190.4 140.3h.9v.9h-.9zM169.5 150.1h.9v.9h-.9zM185.7 140.9h.9v.9h-.9zM182.5 138.3h.9v.9h-.9zM205.1 147.2h.9v.9h-.9zM167.9 142.0h.9v.9h-.9zM203.9 135.7h.9v.9h-.9zM180.5 147.3h.9v.9h-.9zM196.1 126.7h.9v.9h-.9zM201.8 145.1h.9v.9h-.9zM171.6 152.6h.9v.9h-.9zM190.9 159.9h.9v.9h-.9zM189.5 144.8h.9v.9h-.9zM200.5 141.6h.9v.9h-.9zM171.3 160.6h.9v.9h-.9zM185.6 157.8h.9v.9h-.9zM199.7 149.4h.9v.9h-.9zM190.1 141.1h.9v.9h-.9zM175.7 158.4h.9v.9h-.9zM187.6 169.1h.9v.9h-.9zM188.8 140.7h.9v.9h-.9zM186.5 170.7h.9v.9h-.9zM187.7 143.8h.9v.9h-.9zM194.3 136.3h.9v.9h-.9zM177.8 136.9h.9v.9h-.9zM196.8 134.1h.9v.9h-.9zM207.0 140.3h.9v.9h-.9zM196.5 140.3h.9v.9h-.9zM165.3 160.1h.9v.9h-.9zM197.1 128.5h.9v.9h-.9zM187.2 140.7h.9v.9h-.9zM189.3 129.9h.9v.9h-.9zM178.3 141.4h.9v.9h-.9zM196.0 164.4h.9v.9h-.9zM186.2 152.5h.9v.9h-.9zM199.7 127.5h.9v.9h-.9zM194.3 150.8h.9v.9h-.9zM193.8 160.9h.9v.9h-.9zM169.5 156.2h.9v.9h-.9zM192.0 143.6h.9v.9h-.9zM180.2 139.9h.9v.9h-.9zM179.9 136.2h.9v.9h-.9zM206.3 149.0h.9v.9h-.9zM183.1 143.5h.9v.9h-.9zM180.4 135.5h.9v.9h-.9zM196.6 157.6h.9v.9h-.9zM201.5 149.3h.9v.9h-.9zM197.8 145.5h.9v.9h-.9zM197.5 157.5h.9v.9h-.9zM176.0 154.3h.9v.9h-.9zM198.3 142.7h.9v.9h-.9zM201.9 145.8h.9v.9h-.9zM173.7 156.4h.9v.9h-.9zM194.4 148.4h.9v.9h-.9zM181.7 150.6h.9v.9h-.9zM187.8 150.2h.9v.9h-.9zM179.8 156.1h.9v.9h-.9zM171.2 145.4h.9v.9h-.9zM193.7 133.4h.9v.9h-.9zM165.5 147.5h.9v.9h-.9zM181.6 163.1h.9v.9h-.9zM181.9 149.4h.9v.9h-.9zM191.9 140.3h.9v.9h-.9zM201.4 151.5h.9v.9h-.9zM185.5 158.6h.9v.9h-.9zM182.6 150.1h.9v.9h-.9zM176.2 133.6h.9v.9h-.9zM186.8 156.9h.9v.9h-.9zM176.1 155.0h.9v.9h-.9zM173.0 156.4h.9v.9h-.9zM199.4 147.2h.9v.9h-.9zM181.2 146.5h.9v.9h-.9zM199.3 149.1h.9v.9h-.9zM182.2 159.7h.9v.9h-.9zM183.7 144.5h.9v.9h-.9zM199.4 155.6h.9v.9h-.9zM198.3 153.0h.9v.9h-.9zM203.1 157.7h.9v.9h-.9zM191.9 144.2h.9v.9h-.9zM186.9 151.5h.9v.9h-.9zM200.5 150.0h.9v.9h-.9zM214.0 131.5h.9v.9h-.9zM183.2 153.8h.9v.9h-.9zM182.4 151.6h.9v.9h-.9zM193.3 140.1h.9v.9h-.9zM197.3 132.7h.9v.9h-.9zM192.6 136.8h.9v.9h-.9zM203.1 140.3h.9v.9h-.9zM184.9 147.2h.9v.9h-.9zM176.5 141.2h.9v.9h-.9zM194.8 143.1h.9v.9h-.9zM204.3 154.0h.9v.9h-.9zM213.6 142.6h.9v.9h-.9zM200.3 146.9h.9v.9h-.9zM180.3 155.6h.9v.9h-.9zM164.3 168.9h.9v.9h-.9zM190.8 144.3h.9v.9h-.9zM185.7 150.8h.9v.9h-.9zM177.5 145.1h.9v.9h-.9zM179.8 168.9h.9v.9h-.9zM169.9 151.1h.9v.9h-.9zM184.0 149.9h.9v.9h-.9zM192.3 157.4h.9v.9h-.9zM188.4 147.8h.9v.9h-.9zM185.4 150.3h.9v.9h-.9zM187.0 142.0h.9v.9h-.9zM183.5 146.1h.9v.9h-.9zM172.9 158.1h.9v.9h-.9zM183.4 167.7h.9v.9h-.9zM186.1 144.7h.9v.9h-.9zM201.1 143.9h.9v.9h-.9zM191.3 150.5h.9v.9h-.9zM183.9 156.4h.9v.9h-.9zM187.4 145.5h.9v.9h-.9zM171.3 170.9h.9v.9h-.9zM177.1 159.4h.9v.9h-.9zM183.5 153.2h.9v.9h-.9zM183.7 146.4h.9v.9h-.9zM171.1 137.3h.9v.9h-.9zM188.3 156.6h.9v.9h-.9zM178.3 165.3h.9v.9h-.9zM177.9 151.0h.9v.9h-.9zM188.9 145.6h.9v.9h-.9zM168.4 168.2h.9v.9h-.9zM168.2 153.6h.9v.9h-.9zM187.3 157.2h.9v.9h-.9zM207.6 140.3h.9v.9h-.9zM199.5 148.7h.9v.9h-.9zM209.8 140.9h.9v.9h-.9zM185.2 156.9h.9v.9h-.9zM183.8 146.8h.9v.9h-.9zM180.5 167.7h.9v.9h-.9zM206.2 145.5h.9v.9h-.9zM199.9 148.0h.9v.9h-.9zM193.2 143.1h.9v.9h-.9zM210.6 162.2h.9v.9h-.9zM192.0 144.5h.9v.9h-.9zM183.5 140.1h.9v.9h-.9zM195.8 153.3h.9v.9h-.9zM192.3 128.0h.9v.9h-.9zM189.5 169.7h.9v.9h-.9zM181.5 165.9h.9v.9h-.9zM194.9 158.3h.9v.9h-.9zM206.1 145.6h.9v.9h-.9zM192.2 149.8h.9v.9h-.9zM177.4 142.1h.9v.9h-.9zM193.0 137.4h.9v.9h-.9zM191.7 152.1h.9v.9h-.9zM165.1 165.5h.9v.9h-.9zM178.3 161.2h.9v.9h-.9zM180.3 145.9h.9v.9h-.9zM184.0 155.5h.9v.9h-.9zM196.4 150.3h.9v.9h-.9zM210.7 129.7h.9v.9h-.9zM175.1 148.1h.9v.9h-.9zM177.8 137.8h.9v.9h-.9zM194.7 166.6h.9v.9h-.9zM173.8 150.3h.9v.9h-.9zM175.1 150.9h.9v.9h-.9zM195.4 152.8h.9v.9h-.9zM173.6 151.8h.9v.9h-.9zM176.1 164.9h.9v.9h-.9zM195.5 145.7h.9v.9h-.9zM180.0 142.0h.9v.9h-.9zM178.3 158.6h.9v.9h-.9zM171.8 147.8h.9v.9h-.9zM183.0 150.8h.9v.9h-.9zM200.5 146.6h.9v.9h-.9zM201.6 134.3h.9v.9h-.9zM167.5 155.0h.9v.9h-.9zM197.7 135.4h.9v.9h-.9zM186.7 147.3h.9v.9h-.9zM193.1 148.0h.9v.9h-.9zM165.9 145.4h.9v.9h-.9zM199.5 144.4h.9v.9h-.9zM172.0 160.3h.9v.9h-.9zM182.0 153.4h.9v.9h-.9zM178.9 158.3h.9v.9h-.9zM204.8 132.2h.9v.9h-.9zM202.7 130.6h.9v.9h-.9zM196.1 142.6h.9v.9h-.9zM196.6 148.7h.9v.9h-.9zM183.2 156.2h.9v.9h-.9zM206.5 132.9h.9v.9h-.9zM196.6 128.8h.9v.9h-.9zM198.4 142.1h.9v.9h-.9zM179.3 142.0h.9v.9h-.9zM179.4 147.5h.9v.9h-.9zM187.0 150.6h.9v.9h-.9zM202.5 137.3h.9v.9h-.9zM183.0 165.0h.9v.9h-.9zM193.5 153.7h.9v.9h-.9zM208.0 137.0h.9v.9h-.9zM195.1 138.4h.9v.9h-.9zM206.4 132.5h.9v.9h-.9zM190.4 143.3h.9v.9h-.9zM201.9 156.6h.9v.9h-.9zM205.1 139.1h.9v.9h-.9zM190.8 138.2h.9v.9h-.9zM186.2 139.8h.9v.9h-.9zM188.8 161.9h.9v.9h-.9zM166.0 156.5h.9v.9h-.9zM205.9 137.4h.9v.9h-.9zM183.8 153.7h.9v.9h-.9zM185.2 162.8h.9v.9h-.9zM191.9 134.7h.9v.9h-.9zM180.3 160.0h.9v.9h-.9zM173.7 162.5h.9v.9h-.9zM185.7 159.3h.9v.9h-.9zM194.5 158.5h.9v.9h-.9zM191.1 146.8h.9v.9h-.9zM191.8 142.4h.9v.9h-.9zM203.2 145.6h.9v.9h-.9zM178.2 140.1h.9v.9h-.9zM192.6 146.5h.9v.9h-.9zM180.7 142.9h.9v.9h-.9zM173.6 146.3h.9v.9h-.9zM182.9 134.1h.9v.9h-.9zM182.0 134.1h.9v.9h-.9zM212.7 137.1h.9v.9h-.9zM199.1 149.0h.9v.9h-.9zM180.5 155.7h.9v.9h-.9zM200.0 150.1h.9v.9h-.9zM185.0 151.1h.9v.9h-.9zM202.1 130.7h.9v.9h-.9zM184.7 159.9h.9v.9h-.9zM185.0 160.2h.9v.9h-.9zM196.1 156.1h.9v.9h-.9zM181.6 144.4h.9v.9h-.9zM168.5 161.3h.9v.9h-.9zM196.2 154.7h.9v.9h-.9zM207.8 139.9h.9v.9h-.9zM206.5 138.7h.9v.9h-.9zM183.2 152.2h.9v.9h-.9zM191.9 143.4h.9v.9h-.9zM176.1 154.1h.9v.9h-.9zM178.0 169.4h.9v.9h-.9zM197.5 133.0h.9v.9h-.9zM200.2 148.5h.9v.9h-.9zM185.7 153.7h.9v.9h-.9zM177.8 145.2h.9v.9h-.9zM189.5 130.3h.9v.9h-.9zM186.8 140.3h.9v.9h-.9zM183.8 151.5h.9v.9h-.9zM183.4 137.2h.9v.9h-.9zM191.2 153.0h.9v.9h-.9zM189.7 160.1h.9v.9h-.9zM183.0 158.9h.9v.9h-.9zM188.2 128.6h.9v.9h-.9zM169.1 137.0h.9v.9h-.9zM179.8 165.4h.9v.9h-.9zM199.1 134.4h.9v.9h-.9zM196.5 147.4h.9v.9h-.9zM185.5 147.4h.9v.9h-.9zM186.2 142.5h.9v.9h-.9zM177.5 168.7h.9v.9h-.9zM184.4 145.0h.9v.9h-.9zM195.6 151.9h.9v.9h-.9zM195.4 162.2h.9v.9h-.9zM191.8 143.8h.9v.9h-.9zM190.0 168.5h.9v.9h-.9zM182.2 138.0h.9v.9h-.9zM175.8 169.3h.9v.9h-.9zM187.4 149.0h.9v.9h-.9zM173.4 161.2h.9v.9h-.9zM178.7 146.9h.9v.9h-.9zM197.2 159.6h.9v.9h-.9zM172.3 143.7h.9v.9h-.9zM200.3 143.3h.9v.9h-.9zM175.6 149.9h.9v.9h-.9zM205.7 149.6h.9v.9h-.9zM194.9 141.4h.9v.9h-.9zM185.9 160.2h.9v.9h-.9zM203.0 135.4h.9v.9h-.9zM166.3 153.7h.9v.9h-.9zM181.0 129.1h.9v.9h-.9zM198.5 160.4h.9v.9h-.9zM197.2 143.4h.9v.9h-.9zM163.8 155.2h.9v.9h-.9zM172.7 157.6h.9v.9h-.9zM184.1 163.2h.9v.9h-.9zM179.1 138.5h.9v.9h-.9zM201.4 163.7h.9v.9h-.9zM186.1 147.0h.9v.9h-.9zM182.4 148.8h.9v.9h-.9zM187.0 164.2h.9v.9h-.9zM173.6 162.9h.9v.9h-.9zM176.9 146.0h.9v.9h-.9zM198.3 150.4h.9v.9h-.9zM200.9 142.7h.9v.9h-.9zM188.2 161.3h.9v.9h-.9zM193.6 132.8h.9v.9h-.9zM166.0 153.6h.9v.9h-.9zM199.3 146.2h.9v.9h-.9zM172.9 155.9h.9v.9h-.9zM177.4 131.9h.9v.9h-.9zM173.4 153.7h.9v.9h-.9zM180.3 162.1h.9v.9h-.9zM177.1 148.9h.9v.9h-.9zM210.0 144.8h.9v.9h-.9zM177.0 151.6h.9v.9h-.9zM193.4 142.6h.9v.9h-.9zM179.5 136.4h.9v.9h-.9zM185.8 140.7h.9v.9h-.9zM189.5 144.8h.9v.9h-.9zM197.3 147.2h.9v.9h-.9zM175.2 161.2h.9v.9h-.9zM193.7 155.8h.9v.9h-.9zM178.4 130.8h.9v.9h-.9zM180.9 154.4h.9v.9h-.9zM190.2 144.6h.9v.9h-.9zM170.0 151.0h.9v.9h-.9zM194.8 142.0h.9v.9h-.9zM175.2 150.2h.9v.9h-.9zM186.6 154.4h.9v.9h-.9zM193.7 139.3h.9v.9h-.9zM201.8 142.5h.9v.9h-.9zM175.7 147.8h.9v.9h-.9zM187.5 163.4h.9v.9h-.9zM200.2 142.6h.9v.9h-.9zM200.9 135.8h.9v.9h-.9zM198.3 133.7h.9v.9h-.9zM176.3 159.5h.9v.9h-.9zM197.4 134.8h.9v.9h-.9zM185.1 138.4h.9v.9h-.9zM192.2 144.8h.9v.9h-.9zM178.0 148.9h.9v.9h-.9zM182.8 148.0h.9v.9h-.9zM177.0 145.9h.9v.9h-.9zM183.7 153.4h.9v.9h-.9zM176.2 142.2h.9v.9h-.9zM185.1 150.9h.9v.9h-.9zM185.0 161.7h.9v.9h-.9zM179.2 141.4h.9v.9h-.9zM183.7 155.8h.9v.9h-.9zM186.3 148.0h.9v.9h-.9zM195.9 153.1h.9v.9h-.9zM211.4 138.8h.9v.9h-.9zM168.6 145.1h.9v.9h-.9zM212.1 141.5h.9v.9h-.9zM175.8 140.8h.9v.9h-.9zM185.1 166.4h.9v.9h-.9zM171.0 161.8h.9v.9h-.9zM189.5 132.8h.9v.9h-.9zM174.7 167.7h.9v.9h-.9zM197.2 140.9h.9v.9h-.9zM185.1 138.9h.9v.9h-.9zM176.6 149.0h.9v.9h-.9zM182.6 158.3h.9v.9h-.9zM184.4 135.1h.9v.9h-.9zM183.7 141.6h.9v.9h-.9zM205.9 155.0h.9v.9h-.9zM182.6 143.7h.9v.9h-.9zM183.6 156.2h.9v.9h-.9zM195.5 147.2h.9v.9h-.9zM179.6 166.6h.9v.9h-.9zM201.3 147.3h.9v.9h-.9zM173.0 131.0h.9v.9h-.9zM172.1 155.8h.9v.9h-.9zM182.8 166.5h.9v.9h-.9zM178.9 146.5h.9v.9h-.9zM203.6 138.0h.9v.9h-.9zM190.5 131.7h.9v.9h-.9zM178.4 162.9h.9v.9h-.9zM197.1 163.5h.9v.9h-.9zM201.6 128.9h.9v.9h-.9zM194.7 149.2h.9v.9h-.9zM170.8 152.2h.9v.9h-.9zM169.8 164.8h.9v.9h-.9zM203.0 141.7h.9v.9h-.9zM192.5 148.6h.9v.9h-.9zM173.9 162.5h.9v.9h-.9zM208.8 159.2h.9v.9h-.9zM176.8 144.8h.9v.9h-.9zM168.9 142.2h.9v.9h-.9zM184.6 157.7h.9v.9h-.9zM183.0 154.6h.9v.9h-.9zM186.7 169.7h.9v.9h-.9zM178.5 147.9h.9v.9h-.9zM193.4 127.0h.9v.9h-.9zM206.0 138.1h.9v.9h-.9zM180.0 162.5h.9v.9h-.9zM190.2 128.2h.9v.9h-.9zM205.3 130.5h.9v.9h-.9zM168.3 159.6h.9v.9h-.9zM194.1 142.2h.9v.9h-.9zM170.3 154.7h.9v.9h-.9zM193.8 138.1h.9v.9h-.9zM195.8 150.1h.9v.9h-.9zM190.7 155.3h.9v.9h-.9zM185.3 142.7h.9v.9h-.9zM189.1 153.7h.9v.9h-.9zM186.6 154.3h.9v.9h-.9zM172.4 155.5h.9v.9h-.9zM191.4 141.2h.9v.9h-.9zM187.6 149.1h.9v.9h-.9zM200.7 170.7h.9v.9h-.9zM181.8 155.4h.9v.9h-.9zM178.8 145.4h.9v.9h-.9zM169.4 161.9h.9v.9h-.9zM180.4 148.0h.9v.9h-.9zM182.9 166.1h.9v.9h-.9zM170.2 150.2h.9v.9h-.9zM186.9 159.0h.9v.9h-.9zM189.7 151.8h.9v.9h-.9zM196.0 141.9h.9v.9h-.9zM196.3 149.8h.9v.9h-.9zM179.5 139.7h.9v.9h-.9zM213.0 131.6h.9v.9h-.9zM180.2 141.3h.9v.9h-.9zM183.1 137.1h.9v.9h-.9zM172.6 151.7h.9v.9h-.9zM195.6 137.7h.9v.9h-.9zM195.6 149.3h.9v.9h-.9zM166.5 154.0h.9v.9h-.9zM183.8 159.1h.9v.9h-.9zM209.4 157.0h.9v.9h-.9zM169.9 161.1h.9v.9h-.9zM190.7 157.5h.9v.9h-.9zM201.9 145.8h.9v.9h-.9zM177.1 142.4h.9v.9h-.9zM182.0 137.1h.9v.9h-.9zM179.7 155.3h.9v.9h-.9zM167.7 140.0h.9v.9h-.9zM180.6 155.1h.9v.9h-.9zM184.7 154.1h.9v.9h-.9zM196.8 146.5h.9v.9h-.9zM190.6 151.5h.9v.9h-.9zM191.2 141.7h.9v.9h-.9zM198.1 156.0h.9v.9h-.9zM189.0 153.8h.9v.9h-.9zM177.3 155.5h.9v.9h-.9zM194.4 154.4h.9v.9h-.9zM170.7 154.0h.9v.9h-.9zM197.1 149.4h.9v.9h-.9zM208.7 144.3h.9v.9h-.9zM190.2 138.6h.9v.9h-.9zM177.0 146.3h.9v.9h-.9zM181.1 145.2h.9v.9h-.9zM192.2 144.4h.9v.9h-.9zM202.3 140.8h.9v.9h-.9zM187.9 159.0h.9v.9h-.9zM193.7 166.2h.9v.9h-.9zM208.6 150.4h.9v.9h-.9zM191.2 149.0h.9v.9h-.9zM188.7 143.3h.9v.9h-.9zM185.4 136.3h.9v.9h-.9zM183.5 162.1h.9v.9h-.9zM188.6 154.1h.9v.9h-.9zM197.2 137.4h.9v.9h-.9zM184.5 149.4h.9v.9h-.9zM184.3 150.2h.9v.9h-.9zM175.4 128.4h.9v.9h-.9zM191.1 145.1h.9v.9h-.9zM177.5 155.7h.9v.9h-.9zM182.5 140.4h.9v.9h-.9zM209.7 130.8h.9v.9h-.9zM190.4 152.1h.9v.9h-.9zM201.9 158.2h.9v.9h-.9zM177.4 170.0h.9v.9h-.9zM201.4 144.2h.9v.9h-.9zM196.5 140.7h.9v.9h-.9zM188.4 132.2h.9v.9h-.9zM182.5 147.5h.9v.9h-.9zM183.3 136.1h.9v.9h-.9zM185.9 149.0h.9v.9h-.9zM202.8 148.7h.9v.9h-.9zM193.2 156.5h.9v.9h-.9zM201.2 148.1h.9v.9h-.9zM172.6 161.6h.9v.9h-.9zM189.4 159.1h.9v.9h-.9zM174.1 136.8h.9v.9h-.9zM196.5 142.9h.9v.9h-.9zM184.6 151.8h.9v.9h-.9zM173.2 154.6h.9v.9h-.9zM169.2 135.1h.9v.9h-.9zM174.2 154.3h.9v.9h-.9zM188.8 162.2h.9v.9h-.9zM178.3 148.9h.9v.9h-.9zM177.7 159.8h.9v.9h-.9zM173.9 139.1h.9v.9h-.9zM201.7 145.9h.9v.9h-.9zM177.1 165.5h.9v.9h-.9zM177.2 139.8h.9v.9h-.9zM190.6 141.2h.9v.9h-.9zM191.8 158.4h.9v.9h-.9zM177.2 148.6h.9v.9h-.9zM187.4 153.6h.9v.9h-.9zM176.1 135.2h.9v.9h-.9zM191.0 135.0h.9v.9h-.9zM204.7 143.0h.9v.9h-.9zM165.7 153.1h.9v.9h-.9zM176.9 141.2h.9v.9h-.9zM185.0 146.4h.9v.9h-.9zM185.8 131.5h.9v.9h-.9zM198.3 138.5h.9v.9h-.9zM183.1 159.2h.9v.9h-.9zM187.7 143.9h.9v.9h-.9zM201.0 144.1h.9v.9h-.9zM188.9 145.0h.9v.9h-.9zM193.4 150.1h.9v.9h-.9zM192.6 162.4h.9v.9h-.9zM193.3 152.9h.9v.9h-.9zM184.9 149.9h.9v.9h-.9zM199.6 148.6h.9v.9h-.9zM202.3 139.0h.9v.9h-.9zM205.0 136.2h.9v.9h-.9zM202.5 139.3h.9v.9h-.9zM196.2 163.2h.9v.9h-.9zM189.6 146.2h.9v.9h-.9zM190.2 133.6h.9v.9h-.9zM189.6 157.4h.9v.9h-.9zM178.3 169.8h.9v.9h-.9zM187.2 144.9h.9v.9h-.9zM180.0 155.8h.9v.9h-.9zM191.6 154.6h.9v.9h-.9zM198.1 142.1h.9v.9h-.9zM172.0 165.4h.9v.9h-.9zM168.9 166.9h.9v.9h-.9zM191.7 148.6h.9v.9h-.9zM190.6 145.0h.9v.9h-.9zM186.8 154.8h.9v.9h-.9zM172.8 143.8h.9v.9h-.9zM167.2 161.0h.9v.9h-.9zM178.5 140.7h.9v.9h-.9zM178.5 155.4h.9v.9h-.9zM187.7 140.1h.9v.9h-.9zM200.8 144.1h.9v.9h-.9zM188.4 163.1h.9v.9h-.9zM184.5 136.7h.9v.9h-.9zM184.7 142.0h.9v.9h-.9zM196.9 145.0h.9v.9h-.9zM212.6 145.0h.9v.9h-.9zM199.0 148.5h.9v.9h-.9zM197.6 145.7h.9v.9h-.9zM195.6 141.4h.9v.9h-.9zM179.9 150.0h.9v.9h-.9zM189.4 151.9h.9v.9h-.9zM194.0 149.5h.9v.9h-.9zM201.8 138.8h.9v.9h-.9zM198.1 133.1h.9v.9h-.9zM170.2 153.4h.9v.9h-.9zM184.6 146.9h.9v.9h-.9zM183.2 156.4h.9v.9h-.9zM198.3 136.2h.9v.9h-.9zM197.6 144.6h.9v.9h-.9zM180.1 164.8h.9v.9h-.9zM192.3 147.7h.9v.9h-.9zM205.1 137.4h.9v.9h-.9zM198.7 143.9h.9v.9h-.9zM195.5 141.5h.9v.9h-.9zM207.3 140.9h.9v.9h-.9zM196.6 143.7h.9v.9h-.9zM199.9 141.9h.9v.9h-.9zM192.2 145.1h.9v.9h-.9zM205.5 138.5h.9v.9h-.9zM204.1 140.0h.9v.9h-.9zM199.0 145.5h.9v.9h-.9zM191.4 144.2h.9v.9h-.9zM202.8 142.2h.9v.9h-.9zM199.8 138.4h.9v.9h-.9zM205.0 137.6h.9v.9h-.9zM209.3 137.4h.9v.9h-.9zM205.1 145.0h.9v.9h-.9zM198.2 140.4h.9v.9h-.9zM196.4 138.4h.9v.9h-.9zM199.4 142.5h.9v.9h-.9zM198.1 149.3h.9v.9h-.9zM195.9 143.0h.9v.9h-.9zM206.2 148.9h.9v.9h-.9zM189.0 140.6h.9v.9h-.9zM199.0 150.0h.9v.9h-.9zM208.0 140.7h.9v.9h-.9zM200.5 146.7h.9v.9h-.9zM201.2 135.9h.9v.9h-.9zM208.0 141.7h.9v.9h-.9zM203.3 144.7h.9v.9h-.9zM206.7 142.3h.9v.9h-.9zM199.0 141.0h.9v.9h-.9zM196.2 143.2h.9v.9h-.9zM203.2 145.4h.9v.9h-.9zM201.4 141.9h.9v.9h-.9zM199.8 139.6h.9v.9h-.9zM198.4 138.3h.9v.9h-.9zM199.4 143.2h.9v.9h-.9zM200.8 133.5h.9v.9h-.9zM201.0 143.5h.9v.9h-.9zM199.1 142.9h.9v.9h-.9zM199.8 133.3h.9v.9h-.9zM197.6 145.7h.9v.9h-.9zM203.4 144.8h.9v.9h-.9zM206.6 137.1h.9v.9h-.9zM197.1 136.8h.9v.9h-.9zM204.2 134.6h.9v.9h-.9zM201.4 144.5h.9v.9h-.9zM194.9 138.7h.9v.9h-.9zM198.7 140.4h.9v.9h-.9zM201.1 146.4h.9v.9h-.9zM198.2 141.3h.9v.9h-.9zM197.1 140.7h.9v.9h-.9zM205.5 140.9h.9v.9h-.9zM206.0 144.7h.9v.9h-.9zM200.5 142.9h.9v.9h-.9zM194.0 139.4h.9v.9h-.9zM198.9 140.9h.9v.9h-.9zM201.0 130.9h.9v.9h-.9zM195.5 144.6h.9v.9h-.9zM199.8 146.2h.9v.9h-.9zM198.1 128.9h.9v.9h-.9zM195.6 144.0h.9v.9h-.9zM197.0 145.5h.9v.9h-.9zM198.7 139.5h.9v.9h-.9zM198.5 144.6h.9v.9h-.9zM200.5 143.5h.9v.9h-.9zM203.6 143.8h.9v.9h-.9zM210.6 146.6h.9v.9h-.9zM201.8 141.4h.9v.9h-.9zM199.1 137.3h.9v.9h-.9zM202.7 133.6h.9v.9h-.9zM202.5 132.6h.9v.9h-.9zM200.8 144.4h.9v.9h-.9zM194.0 148.1h.9v.9h-.9zM197.6 145.7h.9v.9h-.9zM204.9 138.2h.9v.9h-.9zM202.6 147.5h.9v.9h-.9zM200.4 146.7h.9v.9h-.9zM201.2 145.6h.9v.9h-.9zM204.6 133.8h.9v.9h-.9zM199.7 139.8h.9v.9h-.9zM195.5 138.2h.9v.9h-.9zM195.9 141.3h.9v.9h-.9zM196.3 144.8h.9v.9h-.9zM208.0 128.1h.9v.9h-.9zM198.5 139.2h.9v.9h-.9zM206.1 146.8h.9v.9h-.9zM198.6 141.5h.9v.9h-.9zM200.5 132.9h.9v.9h-.9zM193.2 140.4h.9v.9h-.9zM192.7 146.9h.9v.9h-.9zM200.3 145.5h.9v.9h-.9zM201.4 139.6h.9v.9h-.9zM211.2 136.4h.9v.9h-.9zM200.8 142.2h.9v.9h-.9zM194.1 140.3h.9v.9h-.9zM202.1 144.9h.9v.9h-.9zM196.1 142.1h.9v.9h-.9zM202.2 149.4h.9v.9h-.9zM164.9 174.1h.9v.9h-.9zM165.8 156.6h.9v.9h-.9zM165.0 153.5h.9v.9h-.9zM165.6 153.9h.9v.9h-.9zM167.0 177.7h.9v.9h-.9zM165.7 164.1h.9v.9h-.9zM168.5 150.2h.9v.9h-.9zM167.0 155.7h.9v.9h-.9zM169.3 148.1h.9v.9h-.9zM166.2 158.8h.9v.9h-.9zM168.7 148.2h.9v.9h-.9zM168.5 147.7h.9v.9h-.9zM165.8 156.8h.9v.9h-.9zM171.2 165.0h.9v.9h-.9zM169.2 160.5h.9v.9h-.9zM167.2 159.5h.9v.9h-.9zM165.7 153.2h.9v.9h-.9zM166.0 130.9h.9v.9h-.9zM165.8 151.2h.9v.9h-.9zM166.7 150.9h.9v.9h-.9zM163.8 157.6h.9v.9h-.9zM166.2 168.6h.9v.9h-.9zM164.9 159.6h.9v.9h-.9zM169.5 136.9h.9v.9h-.9zM167.7 152.9h.9v.9h-.9zM169.5 150.6h.9v.9h-.9zM170.9 159.2h.9v.9h-.9zM167.1 152.1h.9v.9h-.9zM170.2 135.3h.9v.9h-.9zM166.9 144.5h.9v.9h-.9zM167.4 149.7h.9v.9h-.9zM164.2 134.1h.9v.9h-.9zM166.3 151.5h.9v.9h-.9zM169.0 150.0h.9v.9h-.9zM167.2 162.3h.9v.9h-.9zM165.4 151.5h.9v.9h-.9zM166.2 146.9h.9v.9h-.9zM164.7 151.4h.9v.9h-.9zM164.8 152.7h.9v.9h-.9zM163.3 161.4h.9v.9h-.9zM168.4 143.9h.9v.9h-.9zM168.4 132.0h.9v.9h-.9zM165.9 177.6h.9v.9h-.9zM163.5 159.4h.9v.9h-.9zM165.7 152.9h.9v.9h-.9zM170.2 174.5h.9v.9h-.9zM163.5 142.1h.9v.9h-.9zM165.1 145.3h.9v.9h-.9zM165.2 148.5h.9v.9h-.9zM167.8 156.9h.9v.9h-.9zM163.6 148.3h.9v.9h-.9zM166.7 159.6h.9v.9h-.9zM164.5 149.3h.9v.9h-.9zM165.4 164.3h.9v.9h-.9zM163.7 156.7h.9v.9h-.9zM167.2 137.3h.9v.9h-.9zM165.2 152.1h.9v.9h-.9zM165.0 142.0h.9v.9h-.9zM168.4 151.2h.9v.9h-.9zM166.9 152.4h.9v.9h-.9z" fill="#000" fill-opacity="0.3"/>
<path d="M77.3 180.1h.9v.9h-.9zM78.7 173.4h.9v.9h-.9zM72.5 171.3h.9v.9h-.9zM81.5 178.1h.9v.9h-.9zM78.4 175.2h.9v.9h-.9zM80.2 171.3h.9v.9h-.9zM74.1 171.8h.9v.9h-.9zM69.1 173.8h.9v.9h-.9zM81.8 177.9h.9v.9h-.9zM81.0 174.1h.9v.9h-.9zM77.4 177.0h.9v.9h-.9zM75.8 180.0h.9v.9h-.9zM76.5 178.8h.9v.9h-.9zM77.2 179.3h.9v.9h-.9zM75.4 178.7h.9v.9h-.9zM67.9 170.2h.9v.9h-.9zM81.8 178.7h.9v.9h-.9zM70.4 176.0h.9v.9h-.9zM76.3 174.6h.9v.9h-.9zM76.4 171.7h.9v.9h-.9zM79.2 170.2h.9v.9h-.9zM69.8 171.7h.9v.9h-.9zM84.0 174.9h.9v.9h-.9zM81.2 171.5h.9v.9h-.9zM81.8 172.6h.9v.9h-.9zM84.3 173.1h.9v.9h-.9zM73.9 177.0h.9v.9h-.9zM62.3 174.1h.9v.9h-.9zM79.6 174.6h.9v.9h-.9zM84.5 179.0h.9v.9h-.9zM83.8 174.0h.9v.9h-.9zM75.3 176.8h.9v.9h-.9zM77.5 171.8h.9v.9h-.9zM79.4 176.0h.9v.9h-.9zM68.9 175.4h.9v.9h-.9zM74.6 175.5h.9v.9h-.9zM74.8 173.6h.9v.9h-.9zM85.9 171.9h.9v.9h-.9zM74.7 174.1h.9v.9h-.9zM85.8 173.6h.9v.9h-.9zM78.0 178.1h.9v.9h-.9zM69.6 177.7h.9v.9h-.9zM89.1 171.4h.9v.9h-.9zM73.1 176.9h.9v.9h-.9zM81.1 173.6h.9v.9h-.9z" fill="#000" fill-opacity="0.18"/>
<path d="M104.3 144.8h.9v.9h-.9zM89.7 153.5h.9v.9h-.9zM75.3 164.1h.9v.9h-.9zM114.4 141.8h.9v.9h-.9zM101.9 141.6h.9v.9h-.9zM77.8 159.9h.9v.9h-.9zM77.2 180.0h.9v.9h-.9zM86.9 151.2h.9v.9h-.9zM82.2 164.8h.9v.9h-.9zM90.0 150.2h.9v.9h-.9zM101.5 135.9h.9v.9h-.9zM114.0 127.1h.9v.9h-.9zM85.0 143.0h.9v.9h-.9zM115.4 131.9h.9v.9h-.9zM108.7 129.0h.9v.9h-.9zM86.2 147.0h.9v.9h-.9zM77.4 173.2h.9v.9h-.9zM106.8 136.1h.9v.9h-.9zM110.5 149.0h.9v.9h-.9zM131.2 123.9h.9v.9h-.9zM121.0 138.3h.9v.9h-.9zM103.1 132.9h.9v.9h-.9zM120.8 129.7h.9v.9h-.9zM94.7 178.4h.9v.9h-.9zM102.6 150.7h.9v.9h-.9zM96.8 157.0h.9v.9h-.9zM122.1 129.9h.9v.9h-.9zM108.3 147.1h.9v.9h-.9zM110.4 124.8h.9v.9h-.9zM84.2 158.8h.9v.9h-.9zM111.2 144.6h.9v.9h-.9zM85.7 147.5h.9v.9h-.9zM97.6 141.8h.9v.9h-.9zM102.4 136.3h.9v.9h-.9zM96.9 142.3h.9v.9h-.9zM74.2 145.8h.9v.9h-.9zM107.6 119.6h.9v.9h-.9zM100.5 141.0h.9v.9h-.9zM84.9 131.7h.9v.9h-.9zM100.0 130.5h.9v.9h-.9zM83.5 145.9h.9v.9h-.9zM116.9 117.6h.9v.9h-.9zM99.8 145.4h.9v.9h-.9zM98.0 138.3h.9v.9h-.9zM99.8 141.4h.9v.9h-.9zM75.9 146.8h.9v.9h-.9zM73.6 151.7h.9v.9h-.9zM101.3 147.6h.9v.9h-.9zM102.4 145.0h.9v.9h-.9zM112.3 127.9h.9v.9h-.9zM103.9 143.9h.9v.9h-.9zM80.2 158.4h.9v.9h-.9zM103.8 141.5h.9v.9h-.9zM116.5 150.1h.9v.9h-.9zM107.6 131.9h.9v.9h-.9zM102.5 145.6h.9v.9h-.9zM79.5 161.6h.9v.9h-.9zM110.9 131.7h.9v.9h-.9zM77.6 143.6h.9v.9h-.9zM107.5 145.3h.9v.9h-.9zM73.4 163.9h.9v.9h-.9zM106.7 138.0h.9v.9h-.9zM83.7 153.8h.9v.9h-.9zM111.2 134.5h.9v.9h-.9zM116.0 120.0h.9v.9h-.9zM114.0 135.8h.9v.9h-.9zM67.5 142.8h.9v.9h-.9zM81.0 155.0h.9v.9h-.9zM73.6 142.2h.9v.9h-.9zM102.8 135.7h.9v.9h-.9zM104.2 147.8h.9v.9h-.9zM95.9 141.7h.9v.9h-.9zM96.8 138.3h.9v.9h-.9zM106.5 143.7h.9v.9h-.9zM103.0 136.5h.9v.9h-.9zM117.5 124.6h.9v.9h-.9zM91.9 142.8h.9v.9h-.9zM106.6 155.7h.9v.9h-.9zM71.4 170.0h.9v.9h-.9zM78.2 163.0h.9v.9h-.9zM77.9 142.8h.9v.9h-.9zM80.9 162.7h.9v.9h-.9zM90.7 132.6h.9v.9h-.9zM113.0 138.6h.9v.9h-.9zM82.0 140.8h.9v.9h-.9zM98.9 166.4h.9v.9h-.9zM77.6 136.9h.9v.9h-.9zM103.7 154.1h.9v.9h-.9zM91.3 157.6h.9v.9h-.9z" fill="#000" fill-opacity="0.16"/>
<path d="M144.1 178.5h.9v.9h-.9zM149.7 178.2h.9v.9h-.9zM148.6 178.3h.9v.9h-.9zM143.6 184.7h.9v.9h-.9zM146.7 183.6h.9v.9h-.9zM146.3 186.2h.9v.9h-.9zM145.2 183.9h.9v.9h-.9zM144.9 181.6h.9v.9h-.9zM154.2 182.8h.9v.9h-.9zM148.2 182.5h.9v.9h-.9zM146.8 182.3h.9v.9h-.9zM146.5 182.4h.9v.9h-.9zM147.7 179.2h.9v.9h-.9zM149.8 182.1h.9v.9h-.9zM145.9 184.3h.9v.9h-.9zM152.6 182.3h.9v.9h-.9zM146.2 185.7h.9v.9h-.9zM147.8 184.0h.9v.9h-.9zM149.9 183.4h.9v.9h-.9zM151.2 179.1h.9v.9h-.9zM146.3 182.2h.9v.9h-.9zM148.2 181.8h.9v.9h-.9zM149.3 178.4h.9v.9h-.9zM148.9 181.1h.9v.9h-.9zM149.8 180.0h.9v.9h-.9zM150.7 181.6h.9v.9h-.9zM148.2 181.9h.9v.9h-.9zM147.1 178.5h.9v.9h-.9zM149.7 180.9h.9v.9h-.9zM149.0 184.4h.9v.9h-.9zM149.4 177.0h.9v.9h-.9zM145.5 183.8h.9v.9h-.9zM149.5 178.0h.9v.9h-.9zM148.0 180.8h.9v.9h-.9zM146.2 183.4h.9v.9h-.9zM147.1 179.8h.9v.9h-.9zM150.4 181.0h.9v.9h-.9zM146.7 183.8h.9v.9h-.9zM148.1 179.2h.9v.9h-.9zM147.3 182.6h.9v.9h-.9zM148.5 184.1h.9v.9h-.9zM147.3 182.2h.9v.9h-.9zM150.6 181.2h.9v.9h-.9zM145.7 185.1h.9v.9h-.9zM146.5 182.6h.9v.9h-.9zM150.1 182.7h.9v.9h-.9zM145.2 184.9h.9v.9h-.9zM143.0 183.4h.9v.9h-.9zM149.5 182.2h.9v.9h-.9zM148.5 183.6h.9v.9h-.9zM148.1 183.8h.9v.9h-.9zM147.3 181.2h.9v.9h-.9zM145.9 184.6h.9v.9h-.9zM155.7 179.7h.9v.9h-.9zM145.6 184.3h.9v.9h-.9zM147.8 184.8h.9v.9h-.9zM145.7 186.6h.9v.9h-.9zM146.6 183.0h.9v.9h-.9zM151.8 180.9h.9v.9h-.9zM147.4 181.9h.9v.9h-.9zM150.1 183.0h.9v.9h-.9zM146.4 183.0h.9v.9h-.9zM151.2 178.6h.9v.9h-.9zM148.0 182.1h.9v.9h-.9zM144.7 184.3h.9v.9h-.9zM149.8 181.7h.9v.9h-.9zM147.3 183.6h.9v.9h-.9zM147.8 179.7h.9v.9h-.9zM147.3 181.2h.9v.9h-.9zM148.6 182.5h.9v.9h-.9zM148.4 182.9h.9v.9h-.9zM145.6 183.9h.9v.9h-.9zM151.0 182.5h.9v.9h-.9zM147.2 182.5h.9v.9h-.9zM149.0 183.0h.9v.9h-.9zM148.0 185.1h.9v.9h-.9zM143.4 186.2h.9v.9h-.9zM142.9 181.9h.9v.9h-.9zM150.9 180.3h.9v.9h-.9zM145.9 183.7h.9v.9h-.9zM149.0 186.2h.9v.9h-.9zM148.0 185.5h.9v.9h-.9zM146.6 182.8h.9v.9h-.9zM148.1 184.1h.9v.9h-.9zM147.2 182.1h.9v.9h-.9zM146.4 183.7h.9v.9h-.9zM147.5 185.0h.9v.9h-.9zM147.7 182.6h.9v.9h-.9zM149.5 183.4h.9v.9h-.9zM147.2 182.5h.9v.9h-.9zM151.2 179.0h.9v.9h-.9zM147.9 181.8h.9v.9h-.9zM147.5 181.4h.9v.9h-.9zM146.0 183.3h.9v.9h-.9zM151.4 182.8h.9v.9h-.9zM144.1 182.3h.9v.9h-.9zM145.4 184.0h.9v.9h-.9zM150.8 183.9h.9v.9h-.9zM146.1 185.8h.9v.9h-.9zM152.0 182.3h.9v.9h-.9zM148.9 184.3h.9v.9h-.9zM143.4 183.8h.9v.9h-.9zM147.3 183.0h.9v.9h-.9zM149.0 175.7h.9v.9h-.9zM145.1 182.9h.9v.9h-.9zM145.3 185.4h.9v.9h-.9zM147.2 179.3h.9v.9h-.9zM148.5 177.3h.9v.9h-.9zM148.6 178.9h.9v.9h-.9zM147.1 183.3h.9v.9h-.9zM149.3 183.9h.9v.9h-.9zM151.1 185.7h.9v.9h-.9zM151.8 182.7h.9v.9h-.9zM151.0 176.8h.9v.9h-.9zM145.0 179.2h.9v.9h-.9zM150.8 180.6h.9v.9h-.9zM148.0 184.6h.9v.9h-.9zM147.4 179.1h.9v.9h-.9zM145.0 183.2h.9v.9h-.9zM145.5 183.0h.9v.9h-.9zM148.7 181.9h.9v.9h-.9zM145.4 183.7h.9v.9h-.9zM150.3 181.8h.9v.9h-.9zM147.5 184.9h.9v.9h-.9zM147.9 182.5h.9v.9h-.9zM148.3 183.7h.9v.9h-.9zM149.0 186.0h.9v.9h-.9zM146.9 180.8h.9v.9h-.9zM149.1 179.2h.9v.9h-.9zM155.3 178.3h.9v.9h-.9zM148.6 182.3h.9v.9h-.9zM148.4 184.4h.9v.9h-.9zM145.3 183.5h.9v.9h-.9zM149.3 183.4h.9v.9h-.9zM145.0 183.0h.9v.9h-.9zM148.2 183.6h.9v.9h-.9zM151.0 181.1h.9v.9h-.9zM143.5 186.4h.9v.9h-.9zM149.7 184.2h.9v.9h-.9zM149.8 183.4h.9v.9h-.9zM144.9 183.2h.9v.9h-.9zM149.8 183.0h.9v.9h-.9zM146.8 179.5h.9v.9h-.9zM147.9 184.6h.9v.9h-.9zM153.3 184.7h.9v.9h-.9zM145.3 185.4h.9v.9h-.9zM149.7 182.3h.9v.9h-.9zM147.3 183.0h.9v.9h-.9zM146.2 185.5h.9v.9h-.9zM146.9 182.2h.9v.9h-.9zM147.6 184.1h.9v.9h-.9zM149.3 180.9h.9v.9h-.9zM143.9 184.4h.9v.9h-.9zM147.4 183.1h.9v.9h-.9zM146.6 183.2h.9v.9h-.9zM149.6 177.5h.9v.9h-.9zM150.3 181.1h.9v.9h-.9zM149.7 183.6h.9v.9h-.9zM147.4 182.8h.9v.9h-.9zM148.8 182.3h.9v.9h-.9zM146.9 184.8h.9v.9h-.9zM150.7 180.4h.9v.9h-.9zM148.5 182.6h.9v.9h-.9zM146.8 185.5h.9v.9h-.9zM149.0 180.1h.9v.9h-.9zM145.8 183.4h.9v.9h-.9zM146.5 184.4h.9v.9h-.9zM144.6 184.1h.9v.9h-.9zM150.2 180.4h.9v.9h-.9zM152.5 179.8h.9v.9h-.9zM144.5 182.7h.9v.9h-.9zM150.0 184.5h.9v.9h-.9zM149.0 179.7h.9v.9h-.9zM152.6 179.3h.9v.9h-.9zM147.3 181.4h.9v.9h-.9zM149.8 182.4h.9v.9h-.9zM145.4 186.5h.9v.9h-.9zM150.2 184.1h.9v.9h-.9zM148.8 183.2h.9v.9h-.9zM148.9 180.8h.9v.9h-.9zM147.3 184.8h.9v.9h-.9zM147.2 179.8h.9v.9h-.9zM146.4 183.7h.9v.9h-.9zM149.6 182.4h.9v.9h-.9zM148.7 183.2h.9v.9h-.9zM145.7 181.5h.9v.9h-.9zM142.9 182.7h.9v.9h-.9zM153.2 182.4h.9v.9h-.9zM149.7 180.1h.9v.9h-.9zM148.0 178.8h.9v.9h-.9zM144.9 181.9h.9v.9h-.9zM146.9 183.2h.9v.9h-.9zM152.7 181.7h.9v.9h-.9zM149.4 181.4h.9v.9h-.9zM147.0 185.7h.9v.9h-.9zM148.0 182.9h.9v.9h-.9zM148.5 183.1h.9v.9h-.9zM148.2 184.4h.9v.9h-.9zM145.1 183.6h.9v.9h-.9zM150.9 181.0h.9v.9h-.9zM148.6 181.1h.9v.9h-.9zM146.6 182.0h.9v.9h-.9zM144.8 186.1h.9v.9h-.9zM145.5 182.3h.9v.9h-.9zM147.8 182.7h.9v.9h-.9zM148.9 180.0h.9v.9h-.9zM146.7 183.0h.9v.9h-.9zM149.7 180.0h.9v.9h-.9zM149.1 183.9h.9v.9h-.9z" fill="#000" fill-opacity="0.75"/>
<path d="M149.2 178.0h.9v.9h-.9zM149.2 178.0h.9v.9h-.9zM158.2 177.1h.9v.9h-.9zM149.1 178.7h.9v.9h-.9zM152.5 179.8h.9v.9h-.9zM150.6 175.2h.9v.9h-.9zM152.6 181.5h.9v.9h-.9zM147.3 183.8h.9v.9h-.9zM156.4 173.9h.9v.9h-.9zM151.3 179.3h.9v.9h-.9zM148.8 180.6h.9v.9h-.9zM144.6 182.1h.9v.9h-.9zM154.2 182.5h.9v.9h-.9zM149.8 183.8h.9v.9h-.9zM152.9 182.5h.9v.9h-.9zM151.4 180.3h.9v.9h-.9zM146.3 182.0h.9v.9h-.9zM159.1 182.3h.9v.9h-.9zM145.5 182.5h.9v.9h-.9zM146.3 184.7h.9v.9h-.9zM151.3 179.3h.9v.9h-.9zM151.7 181.6h.9v.9h-.9zM150.4 180.2h.9v.9h-.9zM149.5 183.2h.9v.9h-.9zM148.2 177.3h.9v.9h-.9zM147.7 181.9h.9v.9h-.9zM151.4 175.9h.9v.9h-.9zM144.9 181.8h.9v.9h-.9zM151.6 184.6h.9v.9h-.9zM153.9 179.4h.9v.9h-.9zM152.1 183.1h.9v.9h-.9zM157.5 167.2h.9v.9h-.9zM144.7 184.9h.9v.9h-.9zM144.9 179.6h.9v.9h-.9zM148.1 176.9h.9v.9h-.9zM156.4 177.7h.9v.9h-.9zM151.2 184.2h.9v.9h-.9zM152.9 174.6h.9v.9h-.9zM145.4 181.8h.9v.9h-.9zM149.1 180.8h.9v.9h-.9zM151.4 174.8h.9v.9h-.9zM149.3 183.3h.9v.9h-.9zM151.5 178.3h.9v.9h-.9zM148.4 179.9h.9v.9h-.9zM155.3 185.5h.9v.9h-.9zM148.8 179.7h.9v.9h-.9zM146.2 184.5h.9v.9h-.9zM155.2 172.6h.9v.9h-.9zM150.9 177.8h.9v.9h-.9zM156.2 181.3h.9v.9h-.9zM144.9 181.6h.9v.9h-.9zM149.2 179.6h.9v.9h-.9zM146.9 177.8h.9v.9h-.9zM142.9 182.8h.9v.9h-.9zM153.5 180.7h.9v.9h-.9zM145.7 180.6h.9v.9h-.9zM147.0 177.9h.9v.9h-.9zM157.2 182.1h.9v.9h-.9zM153.5 178.8h.9v.9h-.9zM150.7 178.0h.9v.9h-.9zM146.6 183.5h.9v.9h-.9zM148.6 183.2h.9v.9h-.9zM155.3 177.3h.9v.9h-.9zM145.8 176.9h.9v.9h-.9zM151.7 180.5h.9v.9h-.9zM150.3 179.6h.9v.9h-.9zM146.9 185.8h.9v.9h-.9zM153.9 172.8h.9v.9h-.9zM150.1 178.6h.9v.9h-.9zM146.7 176.5h.9v.9h-.9zM150.5 178.3h.9v.9h-.9zM152.8 179.9h.9v.9h-.9zM150.0 180.0h.9v.9h-.9zM148.5 185.6h.9v.9h-.9zM153.8 181.9h.9v.9h-.9zM156.5 180.1h.9v.9h-.9zM152.2 181.6h.9v.9h-.9zM154.3 171.6h.9v.9h-.9zM150.6 173.9h.9v.9h-.9zM153.5 178.8h.9v.9h-.9zM154.1 174.1h.9v.9h-.9zM148.1 183.5h.9v.9h-.9zM148.2 182.4h.9v.9h-.9zM149.7 175.5h.9v.9h-.9zM150.3 176.4h.9v.9h-.9zM154.2 173.3h.9v.9h-.9zM153.2 175.0h.9v.9h-.9zM150.4 179.5h.9v.9h-.9zM152.1 181.5h.9v.9h-.9zM151.2 184.6h.9v.9h-.9zM146.9 179.1h.9v.9h-.9zM147.2 180.4h.9v.9h-.9zM156.4 181.7h.9v.9h-.9zM149.7 184.0h.9v.9h-.9zM149.0 182.1h.9v.9h-.9zM146.6 174.2h.9v.9h-.9zM146.2 179.4h.9v.9h-.9zM149.4 181.5h.9v.9h-.9zM155.1 184.3h.9v.9h-.9zM149.0 181.5h.9v.9h-.9zM151.4 180.6h.9v.9h-.9zM149.7 176.6h.9v.9h-.9zM158.8 171.8h.9v.9h-.9zM149.7 178.4h.9v.9h-.9zM150.5 179.3h.9v.9h-.9zM143.6 186.4h.9v.9h-.9zM153.2 179.1h.9v.9h-.9zM153.7 181.6h.9v.9h-.9zM146.5 177.9h.9v.9h-.9zM151.8 180.0h.9v.9h-.9zM156.1 177.1h.9v.9h-.9zM151.9 185.1h.9v.9h-.9zM146.4 182.2h.9v.9h-.9zM156.5 177.1h.9v.9h-.9zM150.2 177.3h.9v.9h-.9zM150.6 181.7h.9v.9h-.9zM160.7 174.5h.9v.9h-.9zM150.1 178.1h.9v.9h-.9zM149.1 179.5h.9v.9h-.9zM151.6 179.2h.9v.9h-.9zM150.0 182.7h.9v.9h-.9zM149.5 176.6h.9v.9h-.9zM152.7 181.8h.9v.9h-.9zM147.3 181.1h.9v.9h-.9zM152.8 185.5h.9v.9h-.9zM154.4 182.8h.9v.9h-.9zM151.4 178.0h.9v.9h-.9zM151.9 176.9h.9v.9h-.9zM158.0 184.0h.9v.9h-.9zM152.7 181.0h.9v.9h-.9zM153.6 180.0h.9v.9h-.9zM148.2 180.2h.9v.9h-.9zM149.3 180.5h.9v.9h-.9zM156.2 179.1h.9v.9h-.9zM150.6 177.0h.9v.9h-.9zM165.6 174.2h.9v.9h-.9zM143.4 186.2h.9v.9h-.9zM154.9 173.5h.9v.9h-.9zM151.6 178.7h.9v.9h-.9zM158.4 177.5h.9v.9h-.9zM155.5 174.6h.9v.9h-.9zM147.3 183.7h.9v.9h-.9zM145.1 185.3h.9v.9h-.9zM150.6 174.5h.9v.9h-.9zM149.0 181.8h.9v.9h-.9zM145.9 174.0h.9v.9h-.9zM151.2 179.4h.9v.9h-.9zM153.2 180.9h.9v.9h-.9zM153.3 180.0h.9v.9h-.9zM152.8 183.0h.9v.9h-.9zM158.9 180.1h.9v.9h-.9zM153.2 173.8h.9v.9h-.9zM146.3 180.1h.9v.9h-.9zM148.4 179.5h.9v.9h-.9zM148.0 181.8h.9v.9h-.9zM149.0 181.9h.9v.9h-.9zM145.8 174.3h.9v.9h-.9zM150.0 182.6h.9v.9h-.9zM145.2 182.9h.9v.9h-.9zM151.9 175.4h.9v.9h-.9zM149.4 184.4h.9v.9h-.9zM155.1 175.7h.9v.9h-.9zM151.5 183.6h.9v.9h-.9zM148.2 183.7h.9v.9h-.9zM151.4 178.3h.9v.9h-.9zM155.8 180.7h.9v.9h-.9zM147.8 185.0h.9v.9h-.9zM148.1 179.9h.9v.9h-.9zM153.2 172.3h.9v.9h-.9zM145.1 181.9h.9v.9h-.9zM147.7 184.3h.9v.9h-.9zM150.4 179.3h.9v.9h-.9zM143.7 185.6h.9v.9h-.9zM152.4 180.3h.9v.9h-.9zM151.3 176.3h.9v.9h-.9zM152.4 178.4h.9v.9h-.9zM150.6 177.6h.9v.9h-.9zM149.8 174.0h.9v.9h-.9zM156.1 178.9h.9v.9h-.9zM146.5 181.3h.9v.9h-.9zM153.8 177.4h.9v.9h-.9zM146.1 177.8h.9v.9h-.9zM149.9 178.4h.9v.9h-.9zM153.0 181.3h.9v.9h-.9zM144.2 184.9h.9v.9h-.9zM155.3 174.9h.9v.9h-.9zM149.6 180.5h.9v.9h-.9zM147.5 180.9h.9v.9h-.9zM154.0 181.9h.9v.9h-.9zM148.9 174.8h.9v.9h-.9zM151.2 181.7h.9v.9h-.9zM154.0 173.6h.9v.9h-.9zM149.9 177.6h.9v.9h-.9zM147.3 179.8h.9v.9h-.9zM149.2 181.4h.9v.9h-.9zM149.5 182.0h.9v.9h-.9zM154.9 181.2h.9v.9h-.9zM154.6 182.9h.9v.9h-.9zM157.1 175.5h.9v.9h-.9zM161.0 173.3h.9v.9h-.9zM154.4 174.6h.9v.9h-.9zM154.5 179.7h.9v.9h-.9zM161.1 170.4h.9v.9h-.9zM160.6 175.2h.9v.9h-.9zM155.0 178.2h.9v.9h-.9zM164.4 170.3h.9v.9h-.9zM157.2 172.2h.9v.9h-.9zM155.9 174.0h.9v.9h-.9zM159.2 174.5h.9v.9h-.9zM161.5 177.2h.9v.9h-.9zM166.7 172.3h.9v.9h-.9zM164.4 169.4h.9v.9h-.9zM156.6 175.6h.9v.9h-.9zM154.0 179.6h.9v.9h-.9zM158.3 172.4h.9v.9h-.9zM159.0 175.8h.9v.9h-.9zM156.3 178.6h.9v.9h-.9zM152.1 174.2h.9v.9h-.9zM149.3 180.4h.9v.9h-.9zM160.6 169.5h.9v.9h-.9zM161.6 173.3h.9v.9h-.9zM154.3 181.1h.9v.9h-.9zM151.3 174.4h.9v.9h-.9zM151.7 174.3h.9v.9h-.9zM152.7 177.0h.9v.9h-.9zM156.8 170.5h.9v.9h-.9zM156.2 177.2h.9v.9h-.9zM161.0 174.0h.9v.9h-.9zM151.2 175.7h.9v.9h-.9zM153.6 178.6h.9v.9h-.9zM151.4 179.4h.9v.9h-.9zM163.5 172.2h.9v.9h-.9zM160.5 175.0h.9v.9h-.9zM157.7 175.6h.9v.9h-.9zM153.9 176.6h.9v.9h-.9zM157.7 180.4h.9v.9h-.9zM158.7 173.2h.9v.9h-.9zM154.3 179.5h.9v.9h-.9zM156.7 173.5h.9v.9h-.9zM163.9 173.2h.9v.9h-.9zM153.8 179.4h.9v.9h-.9zM167.6 173.3h.9v.9h-.9zM158.3 178.1h.9v.9h-.9zM164.8 169.7h.9v.9h-.9zM163.7 176.6h.9v.9h-.9zM153.4 180.3h.9v.9h-.9zM160.4 172.5h.9v.9h-.9zM153.4 175.4h.9v.9h-.9zM162.8 178.8h.9v.9h-.9zM166.9 175.1h.9v.9h-.9zM156.9 176.0h.9v.9h-.9zM158.6 175.6h.9v.9h-.9zM162.6 176.5h.9v.9h-.9zM152.4 178.6h.9v.9h-.9zM162.3 175.5h.9v.9h-.9zM155.1 177.4h.9v.9h-.9zM159.8 177.3h.9v.9h-.9zM159.6 173.3h.9v.9h-.9zM153.2 176.6h.9v.9h-.9zM161.0 176.5h.9v.9h-.9zM159.1 172.4h.9v.9h-.9zM155.7 175.3h.9v.9h-.9zM167.5 174.8h.9v.9h-.9zM157.5 177.4h.9v.9h-.9zM162.1 173.4h.9v.9h-.9zM151.2 179.7h.9v.9h-.9zM156.9 178.1h.9v.9h-.9zM155.2 179.1h.9v.9h-.9zM161.7 168.9h.9v.9h-.9zM160.6 174.6h.9v.9h-.9zM152.8 172.6h.9v.9h-.9zM158.8 173.0h.9v.9h-.9zM152.8 181.9h.9v.9h-.9zM165.2 174.1h.9v.9h-.9zM164.8 171.2h.9v.9h-.9zM162.7 172.0h.9v.9h-.9zM161.0 174.8h.9v.9h-.9zM156.7 179.6h.9v.9h-.9zM155.6 174.6h.9v.9h-.9zM161.9 172.5h.9v.9h-.9zM163.7 175.1h.9v.9h-.9zM151.6 179.9h.9v.9h-.9zM159.8 175.9h.9v.9h-.9zM150.1 178.6h.9v.9h-.9zM155.4 179.4h.9v.9h-.9zM161.7 170.9h.9v.9h-.9zM161.3 174.5h.9v.9h-.9zM162.3 171.7h.9v.9h-.9zM158.7 172.2h.9v.9h-.9zM162.5 176.5h.9v.9h-.9zM154.4 177.3h.9v.9h-.9zM159.4 171.9h.9v.9h-.9zM153.2 179.1h.9v.9h-.9zM149.8 178.1h.9v.9h-.9zM156.7 178.2h.9v.9h-.9zM153.4 180.3h.9v.9h-.9zM160.3 175.8h.9v.9h-.9zM156.5 175.6h.9v.9h-.9zM149.4 179.5h.9v.9h-.9zM163.9 176.5h.9v.9h-.9zM160.7 171.3h.9v.9h-.9zM164.2 176.1h.9v.9h-.9zM165.0 174.3h.9v.9h-.9zM161.8 170.5h.9v.9h-.9zM163.0 174.0h.9v.9h-.9zM161.7 175.5h.9v.9h-.9zM162.0 174.7h.9v.9h-.9zM162.1 176.1h.9v.9h-.9zM154.8 179.9h.9v.9h-.9zM155.0 177.4h.9v.9h-.9zM159.5 175.7h.9v.9h-.9zM156.6 176.6h.9v.9h-.9zM165.5 173.2h.9v.9h-.9zM151.8 175.9h.9v.9h-.9zM153.4 182.2h.9v.9h-.9zM156.0 176.2h.9v.9h-.9zM157.4 178.0h.9v.9h-.9zM165.6 173.2h.9v.9h-.9zM149.8 180.2h.9v.9h-.9zM162.6 172.9h.9v.9h-.9zM164.8 171.5h.9v.9h-.9zM153.0 176.7h.9v.9h-.9zM167.3 170.6h.9v.9h-.9zM160.5 176.4h.9v.9h-.9zM153.5 177.1h.9v.9h-.9zM165.0 170.7h.9v.9h-.9zM150.7 183.0h.9v.9h-.9zM155.3 178.9h.9v.9h-.9zM153.8 180.9h.9v.9h-.9zM156.6 176.6h.9v.9h-.9zM153.7 179.3h.9v.9h-.9zM155.6 178.1h.9v.9h-.9zM162.4 176.0h.9v.9h-.9zM156.5 175.8h.9v.9h-.9zM158.2 172.7h.9v.9h-.9zM165.8 170.7h.9v.9h-.9zM164.6 169.7h.9v.9h-.9zM152.8 182.0h.9v.9h-.9zM162.2 172.8h.9v.9h-.9zM163.9 172.6h.9v.9h-.9zM164.0 172.4h.9v.9h-.9zM158.0 176.6h.9v.9h-.9zM162.5 172.8h.9v.9h-.9zM159.2 173.9h.9v.9h-.9zM154.8 173.1h.9v.9h-.9zM156.8 178.7h.9v.9h-.9zM155.0 175.1h.9v.9h-.9zM163.2 173.0h.9v.9h-.9zM157.9 173.8h.9v.9h-.9zM164.1 171.2h.9v.9h-.9zM156.1 175.9h.9v.9h-.9zM151.6 181.0h.9v.9h-.9zM152.9 176.7h.9v.9h-.9zM155.5 176.9h.9v.9h-.9zM159.4 174.6h.9v.9h-.9zM159.6 175.0h.9v.9h-.9z" fill="#000" fill-opacity="0.4"/>
<path d="M183.0 171.3h.9v.9h-.9zM176.3 173.0h.9v.9h-.9zM169.2 173.9h.9v.9h-.9zM184.1 174.9h.9v.9h-.9zM192.0 168.5h.9v.9h-.9zM164.4 177.3h.9v.9h-.9zM184.1 172.0h.9v.9h-.9zM185.8 169.0h.9v.9h-.9zM193.2 167.9h.9v.9h-.9zM163.1 177.1h.9v.9h-.9zM175.2 174.9h.9v.9h-.9zM168.5 175.4h.9v.9h-.9zM175.1 174.7h.9v.9h-.9zM196.3 168.3h.9v.9h-.9zM169.4 176.2h.9v.9h-.9zM175.7 170.3h.9v.9h-.9zM189.8 170.4h.9v.9h-.9zM188.1 169.4h.9v.9h-.9zM192.8 167.9h.9v.9h-.9zM166.5 171.9h.9v.9h-.9zM167.7 174.9h.9v.9h-.9zM171.3 175.8h.9v.9h-.9zM181.6 175.7h.9v.9h-.9zM185.0 169.9h.9v.9h-.9zM168.1 175.0h.9v.9h-.9zM185.0 172.0h.9v.9h-.9zM168.5 175.4h.9v.9h-.9zM193.0 167.5h.9v.9h-.9zM182.8 171.7h.9v.9h-.9zM168.6 175.2h.9v.9h-.9zM188.1 170.4h.9v.9h-.9zM178.8 173.6h.9v.9h-.9zM187.2 172.5h.9v.9h-.9zM180.7 173.4h.9v.9h-.9zM194.5 170.0h.9v.9h-.9zM172.2 174.7h.9v.9h-.9zM197.8 169.6h.9v.9h-.9zM164.2 175.5h.9v.9h-.9zM175.1 176.6h.9v.9h-.9zM171.2 176.0h.9v.9h-.9zM196.9 170.1h.9v.9h-.9zM166.6 175.7h.9v.9h-.9zM175.9 175.8h.9v.9h-.9zM177.9 174.1h.9v.9h-.9zM168.1 176.1h.9v.9h-.9zM191.0 167.8h.9v.9h-.9zM187.6 168.8h.9v.9h-.9zM181.9 174.7h.9v.9h-.9zM177.3 175.0h.9v.9h-.9zM171.3 175.4h.9v.9h-.9zM168.7 175.8h.9v.9h-.9zM178.6 172.3h.9v.9h-.9zM186.5 168.9h.9v.9h-.9zM192.2 166.8h.9v.9h-.9zM173.0 174.0h.9v.9h-.9zM192.4 169.0h.9v.9h-.9zM186.5 169.4h.9v.9h-.9zM169.5 176.7h.9v.9h-.9zM164.4 177.4h.9v.9h-.9zM165.1 177.0h.9v.9h-.9zM195.1 165.9h.9v.9h-.9zM169.8 174.5h.9v.9h-.9zM166.5 176.4h.9v.9h-.9zM185.2 169.3h.9v.9h-.9zM173.2 171.5h.9v.9h-.9zM193.5 171.2h.9v.9h-.9zM186.0 171.9h.9v.9h-.9zM193.3 168.5h.9v.9h-.9zM183.9 173.4h.9v.9h-.9zM187.9 172.0h.9v.9h-.9zM179.9 173.5h.9v.9h-.9zM178.7 173.5h.9v.9h-.9zM187.8 171.1h.9v.9h-.9zM168.5 177.4h.9v.9h-.9zM166.2 176.5h.9v.9h-.9zM191.8 168.5h.9v.9h-.9zM179.8 174.4h.9v.9h-.9zM180.8 168.0h.9v.9h-.9zM175.6 173.6h.9v.9h-.9zM188.7 169.7h.9v.9h-.9zM188.2 170.0h.9v.9h-.9zM166.6 175.1h.9v.9h-.9zM188.5 170.5h.9v.9h-.9zM172.8 174.3h.9v.9h-.9zM181.5 172.0h.9v.9h-.9zM177.2 172.5h.9v.9h-.9zM189.8 170.0h.9v.9h-.9zM177.1 172.5h.9v.9h-.9zM190.3 170.9h.9v.9h-.9zM192.5 166.2h.9v.9h-.9zM181.4 172.1h.9v.9h-.9zM188.9 170.3h.9v.9h-.9zM192.5 167.2h.9v.9h-.9zM171.1 174.3h.9v.9h-.9zM176.7 174.8h.9v.9h-.9zM193.7 168.7h.9v.9h-.9zM187.3 168.9h.9v.9h-.9zM191.6 165.2h.9v.9h-.9zM181.9 172.1h.9v.9h-.9zM176.5 173.7h.9v.9h-.9zM188.9 170.8h.9v.9h-.9zM175.0 176.8h.9v.9h-.9zM183.2 171.8h.9v.9h-.9zM171.3 175.3h.9v.9h-.9zM177.0 172.4h.9v.9h-.9zM178.5 172.9h.9v.9h-.9zM165.8 175.9h.9v.9h-.9zM167.1 177.1h.9v.9h-.9zM189.2 169.8h.9v.9h-.9zM192.4 167.1h.9v.9h-.9zM168.7 174.9h.9v.9h-.9zM175.3 175.6h.9v.9h-.9zM187.6 169.6h.9v.9h-.9zM169.4 176.8h.9v.9h-.9zM167.6 178.7h.9v.9h-.9zM192.5 169.8h.9v.9h-.9zM173.6 174.8h.9v.9h-.9zM196.1 170.3h.9v.9h-.9zM181.3 172.8h.9v.9h-.9zM183.2 171.7h.9v.9h-.9zM181.4 171.9h.9v.9h-.9zM178.9 174.0h.9v.9h-.9zM171.3 175.6h.9v.9h-.9zM182.0 173.5h.9v.9h-.9zM178.6 172.6h.9v.9h-.9zM190.7 168.9h.9v.9h-.9zM172.3 173.8h.9v.9h-.9zM170.6 175.7h.9v.9h-.9zM190.7 168.3h.9v.9h-.9zM182.5 173.5h.9v.9h-.9zM173.9 175.4h.9v.9h-.9zM189.5 168.6h.9v.9h-.9zM172.2 170.3h.9v.9h-.9zM184.9 168.0h.9v.9h-.9zM187.7 173.1h.9v.9h-.9zM173.9 174.3h.9v.9h-.9zM182.9 171.4h.9v.9h-.9zM181.1 172.0h.9v.9h-.9zM162.6 177.3h.9v.9h-.9zM194.7 165.5h.9v.9h-.9z" fill="#000" fill-opacity="0.45"/>
<rect x="46.30" y="115.90" width="87.10" height="71.40" fill="none" stroke="#161616" stroke-width="1.25"/>
<line x1="70.20" y1="115.90" x2="70.20" y2="187.30" stroke="#161616" stroke-width="1.25"/>
<line x1="46.30" y1="169.40" x2="133.40" y2="169.40" stroke="#161616" stroke-width="1.25"/>
<rect x="142.20" y="115.90" width="87.10" height="71.40" fill="none" stroke="#161616" stroke-width="1.25"/>
<line x1="164.40" y1="115.90" x2="164.40" y2="187.30" stroke="#161616" stroke-width="1.25"/>
<line x1="142.20" y1="169.40" x2="229.30" y2="169.40" stroke="#161616" stroke-width="1.25"/>
<text x="42.20" y="195.40" font-size="5.2" font-weight="bold" fill="#222" stroke="#222" stroke-width="0.16">10<tspan dy="-2.4" dx="0.3" font-size="2.60" stroke-width="0.1">0</tspan></text>
<text x="63.20" y="195.40" font-size="5.2" font-weight="bold" fill="#222" stroke="#222" stroke-width="0.16">10<tspan dy="-2.4" dx="0.3" font-size="2.60" stroke-width="0.1">1</tspan></text>
<text x="84.20" y="195.40" font-size="5.2" font-weight="bold" fill="#222" stroke="#222" stroke-width="0.16">10<tspan dy="-2.4" dx="0.3" font-size="2.60" stroke-width="0.1">2</tspan></text>
<text x="105.20" y="195.40" font-size="5.2" font-weight="bold" fill="#222" stroke="#222" stroke-width="0.16">10<tspan dy="-2.4" dx="0.3" font-size="2.60" stroke-width="0.1">3</tspan></text>
<text x="125.70" y="195.40" font-size="5.2" font-weight="bold" fill="#222" stroke="#222" stroke-width="0.16">10<tspan dy="-2.4" dx="0.3" font-size="2.60" stroke-width="0.1">4</tspan></text>
<text x="138.70" y="195.40" font-size="5.2" font-weight="bold" fill="#222" stroke="#222" stroke-width="0.16">10<tspan dy="-2.4" dx="0.3" font-size="2.60" stroke-width="0.1">0</tspan></text>
<text x="158.70" y="195.40" font-size="5.2" font-weight="bold" fill="#222" stroke="#222" stroke-width="0.16">10<tspan dy="-2.4" dx="0.3" font-size="2.60" stroke-width="0.1">1</tspan></text>
<text x="179.50" y="195.40" font-size="5.2" font-weight="bold" fill="#222" stroke="#222" stroke-width="0.16">10<tspan dy="-2.4" dx="0.3" font-size="2.60" stroke-width="0.1">2</tspan></text>
<text x="200.70" y="195.40" font-size="5.2" font-weight="bold" fill="#222" stroke="#222" stroke-width="0.16">10<tspan dy="-2.4" dx="0.3" font-size="2.60" stroke-width="0.1">3</tspan></text>
<text x="220.50" y="195.40" font-size="5.2" font-weight="bold" fill="#222" stroke="#222" stroke-width="0.16">10<tspan dy="-2.4" dx="0.3" font-size="2.60" stroke-width="0.1">4</tspan></text>
<line x1="46.20" y1="198.80" x2="229.30" y2="198.80" stroke="#222" stroke-width="1.3"/>
<text x="104.80" y="207.90" font-size="8.19" font-weight="bold" fill="#111" stroke="#111" stroke-width="0.22" textLength="61.80" lengthAdjust="spacingAndGlyphs">Annexin V-FITC</text>
<text x="118.00" y="128.00" font-size="8.19" font-weight="bold" fill="#111" stroke="#111" stroke-width="0.22" textLength="12.00" lengthAdjust="spacingAndGlyphs">4%</text>
<text x="118.00" y="180.10" font-size="8.19" font-weight="bold" fill="#111" stroke="#111" stroke-width="0.22" textLength="12.40" lengthAdjust="spacingAndGlyphs">2%</text>
<text x="207.70" y="128.00" font-size="8.19" font-weight="bold" fill="#111" stroke="#111" stroke-width="0.22" textLength="16.70" lengthAdjust="spacingAndGlyphs">32%</text>
<text x="209.60" y="179.20" font-size="8.19" font-weight="bold" fill="#111" stroke="#111" stroke-width="0.22" textLength="15.80" lengthAdjust="spacingAndGlyphs">14%</text>
<text x="250.70" y="12.40" font-size="17.0" font-weight="bold" fill="#000" stroke="#000" stroke-width="0.35" textLength="12.20" lengthAdjust="spacingAndGlyphs">C</text>
<line x1="323.60" y1="18.00" x2="323.60" y2="137.50" stroke="#222" stroke-width="1.3"/>
<line x1="323.60" y1="137.50" x2="510.40" y2="137.50" stroke="#222" stroke-width="1.3"/>
<line x1="321.60" y1="20.50" x2="323.60" y2="20.50" stroke="#222" stroke-width="1.0"/>
<text x="311.40" y="23.20" font-size="7.98" font-weight="bold" fill="#111" stroke="#111" stroke-width="0.22" textLength="8.60" lengthAdjust="spacingAndGlyphs">60</text>
<line x1="321.60" y1="60.30" x2="323.60" y2="60.30" stroke="#222" stroke-width="1.0"/>
<text x="311.40" y="63.00" font-size="7.98" font-weight="bold" fill="#111" stroke="#111" stroke-width="0.22" textLength="8.60" lengthAdjust="spacingAndGlyphs">40</text>
<line x1="321.60" y1="99.50" x2="323.60" y2="99.50" stroke="#222" stroke-width="1.0"/>
<text x="311.40" y="102.20" font-size="7.98" font-weight="bold" fill="#111" stroke="#111" stroke-width="0.22" textLength="8.60" lengthAdjust="spacingAndGlyphs">20</text>
<text transform="translate(308.30,89.60) rotate(-90)" x="0" y="0" font-size="7.98" font-weight="bold" fill="#111" stroke="#111" stroke-width="0.22" textLength="31.80" lengthAdjust="spacingAndGlyphs">Cells (%)</text>
<rect x="331.90" y="27.90" width="6.60" height="6.40" fill="#fff" stroke="#222" stroke-width="1"/>
<rect x="331.70" y="38.30" width="6.80" height="7.20" fill="#111" stroke="none" stroke-width="1"/>
<text x="341.60" y="33.90" font-size="8.19" font-weight="bold" fill="#111" stroke="#111" stroke-width="0.22" textLength="52.70" lengthAdjust="spacingAndGlyphs">AnnexinV+/PI-</text>
<text x="341.60" y="44.60" font-size="8.19" font-weight="bold" fill="#111" stroke="#111" stroke-width="0.22" textLength="53.80" lengthAdjust="spacingAndGlyphs">AnnexinV+/PI+</text>
<text x="415.00" y="33.90" font-size="8.19" font-weight="bold" fill="#111" stroke="#111" stroke-width="0.22" textLength="17.40" lengthAdjust="spacingAndGlyphs">KG-1</text>
<rect x="332.70" y="127.20" width="9.00" height="3.50" fill="#fff" stroke="#b0b0b0" stroke-width="1.0"/>
<rect x="332.20" y="130.20" width="10.00" height="7.30" fill="#0c0c0c" stroke="none" stroke-width="1"/>
<line x1="337.20" y1="124.80" x2="337.20" y2="126.70" stroke="#111" stroke-width="1.3"/>
<line x1="335.20" y1="125.40" x2="339.20" y2="125.40" stroke="#111" stroke-width="1.3"/>
<line x1="337.20" y1="128.50" x2="337.20" y2="130.20" stroke="#111" stroke-width="1.3"/>
<line x1="335.20" y1="129.10" x2="339.20" y2="129.10" stroke="#111" stroke-width="1.3"/>
<rect x="355.70" y="108.10" width="8.90" height="4.80" fill="#fff" stroke="#b0b0b0" stroke-width="1.0"/>
<rect x="355.20" y="112.40" width="9.90" height="25.10" fill="#0c0c0c" stroke="none" stroke-width="1"/>
<line x1="360.15" y1="104.60" x2="360.15" y2="107.60" stroke="#111" stroke-width="1.3"/>
<line x1="358.15" y1="105.20" x2="362.15" y2="105.20" stroke="#111" stroke-width="1.3"/>
<line x1="360.15" y1="110.20" x2="360.15" y2="112.40" stroke="#111" stroke-width="1.3"/>
<line x1="358.15" y1="110.80" x2="362.15" y2="110.80" stroke="#111" stroke-width="1.3"/>
<rect x="378.70" y="82.80" width="8.80" height="9.20" fill="#fff" stroke="#b0b0b0" stroke-width="1.0"/>
<rect x="378.20" y="91.50" width="9.80" height="46.00" fill="#0c0c0c" stroke="none" stroke-width="1"/>
<line x1="383.10" y1="81.40" x2="383.10" y2="82.30" stroke="#111" stroke-width="1.3"/>
<line x1="381.10" y1="82.00" x2="385.10" y2="82.00" stroke="#111" stroke-width="1.3"/>
<line x1="383.10" y1="85.80" x2="383.10" y2="91.50" stroke="#111" stroke-width="1.3"/>
<line x1="381.10" y1="86.40" x2="385.10" y2="86.40" stroke="#111" stroke-width="1.3"/>
<rect x="401.70" y="67.40" width="8.60" height="17.10" fill="#fff" stroke="#b0b0b0" stroke-width="1.0"/>
<rect x="401.20" y="84.00" width="9.60" height="53.50" fill="#0c0c0c" stroke="none" stroke-width="1"/>
<line x1="406.00" y1="63.30" x2="406.00" y2="66.90" stroke="#111" stroke-width="1.3"/>
<line x1="404.00" y1="63.90" x2="408.00" y2="63.90" stroke="#111" stroke-width="1.3"/>
<line x1="406.00" y1="80.20" x2="406.00" y2="84.00" stroke="#111" stroke-width="1.3"/>
<line x1="404.00" y1="80.80" x2="408.00" y2="80.80" stroke="#111" stroke-width="1.3"/>
<rect x="424.70" y="123.90" width="8.70" height="3.60" fill="#fff" stroke="#b0b0b0" stroke-width="1.0"/>
<rect x="424.20" y="127.00" width="9.70" height="10.50" fill="#0c0c0c" stroke="none" stroke-width="1"/>
<line x1="429.05" y1="122.60" x2="429.05" y2="123.40" stroke="#111" stroke-width="1.3"/>
<line x1="427.05" y1="123.20" x2="431.05" y2="123.20" stroke="#111" stroke-width="1.3"/>
<rect x="447.10" y="106.20" width="8.80" height="3.20" fill="#fff" stroke="#b0b0b0" stroke-width="1.0"/>
<rect x="446.60" y="108.90" width="9.80" height="28.60" fill="#0c0c0c" stroke="none" stroke-width="1"/>
<line x1="451.50" y1="103.60" x2="451.50" y2="105.70" stroke="#111" stroke-width="1.3"/>
<line x1="449.50" y1="104.20" x2="453.50" y2="104.20" stroke="#111" stroke-width="1.3"/>
<rect x="470.10" y="74.60" width="8.90" height="11.80" fill="#fff" stroke="#b0b0b0" stroke-width="1.0"/>
<rect x="469.60" y="85.90" width="9.90" height="51.60" fill="#0c0c0c" stroke="none" stroke-width="1"/>
<line x1="474.55" y1="72.00" x2="474.55" y2="74.10" stroke="#111" stroke-width="1.3"/>
<line x1="472.55" y1="72.60" x2="476.55" y2="72.60" stroke="#111" stroke-width="1.3"/>
<line x1="474.55" y1="82.20" x2="474.55" y2="85.90" stroke="#111" stroke-width="1.3"/>
<line x1="472.55" y1="82.80" x2="476.55" y2="82.80" stroke="#111" stroke-width="1.3"/>
<rect x="492.90" y="45.90" width="8.90" height="26.80" fill="#fff" stroke="#b0b0b0" stroke-width="1.0"/>
<rect x="492.40" y="72.20" width="9.90" height="65.30" fill="#0c0c0c" stroke="none" stroke-width="1"/>
<line x1="497.35" y1="42.40" x2="497.35" y2="45.40" stroke="#111" stroke-width="1.3"/>
<line x1="495.35" y1="43.00" x2="499.35" y2="43.00" stroke="#111" stroke-width="1.3"/>
<line x1="497.35" y1="65.80" x2="497.35" y2="72.20" stroke="#111" stroke-width="1.3"/>
<line x1="495.35" y1="66.40" x2="499.35" y2="66.40" stroke="#111" stroke-width="1.3"/>
<text x="335.60" y="146.50" font-size="7.98" font-weight="bold" fill="#111" stroke="#111" stroke-width="0.22" textLength="4.20" lengthAdjust="spacingAndGlyphs">0</text>
<text x="357.70" y="146.50" font-size="7.98" font-weight="bold" fill="#111" stroke="#111" stroke-width="0.22" textLength="4.20" lengthAdjust="spacingAndGlyphs">1</text>
<text x="381.70" y="146.50" font-size="7.98" font-weight="bold" fill="#111" stroke="#111" stroke-width="0.22" textLength="4.20" lengthAdjust="spacingAndGlyphs">5</text>
<text x="401.80" y="146.50" font-size="7.98" font-weight="bold" fill="#111" stroke="#111" stroke-width="0.22" textLength="8.40" lengthAdjust="spacingAndGlyphs">10</text>
<text x="426.60" y="146.50" font-size="7.98" font-weight="bold" fill="#111" stroke="#111" stroke-width="0.22" textLength="4.20" lengthAdjust="spacingAndGlyphs">0</text>
<text x="448.70" y="146.50" font-size="7.98" font-weight="bold" fill="#111" stroke="#111" stroke-width="0.22" textLength="4.20" lengthAdjust="spacingAndGlyphs">1</text>
<text x="472.30" y="146.50" font-size="7.98" font-weight="bold" fill="#111" stroke="#111" stroke-width="0.22" textLength="4.20" lengthAdjust="spacingAndGlyphs">5</text>
<text x="493.70" y="146.50" font-size="7.98" font-weight="bold" fill="#111" stroke="#111" stroke-width="0.22" textLength="8.40" lengthAdjust="spacingAndGlyphs">10</text>
<line x1="333.50" y1="149.60" x2="411.70" y2="149.60" stroke="#222" stroke-width="1.2"/>
<line x1="424.50" y1="149.60" x2="504.60" y2="149.60" stroke="#222" stroke-width="1.2"/>
<text x="365.60" y="158.50" font-size="7.77" font-weight="bold" fill="#111" stroke="#111" stroke-width="0.22" textLength="20.60" lengthAdjust="spacingAndGlyphs">day 3</text>
<text x="456.50" y="158.50" font-size="7.77" font-weight="bold" fill="#111" stroke="#111" stroke-width="0.22" textLength="21.20" lengthAdjust="spacingAndGlyphs">day 6</text>
<text x="271.50" y="146.20" font-size="7.98" font-weight="bold" fill="#111" stroke="#111" stroke-width="0.22" textLength="48.90" lengthAdjust="spacingAndGlyphs">Erlotinib (<tspan font-weight="normal" stroke-width="0">&#956;</tspan>M)</text>
<text x="0.30" y="239.70" font-size="16.6" font-weight="bold" fill="#000" stroke="#000" stroke-width="0.35" textLength="11.70" lengthAdjust="spacingAndGlyphs">D</text>
<line x1="56.30" y1="244.80" x2="56.30" y2="329.20" stroke="#222" stroke-width="1.3"/>
<line x1="56.30" y1="329.20" x2="246.90" y2="329.20" stroke="#222" stroke-width="1.3"/>
<line x1="54.10" y1="246.60" x2="56.30" y2="246.60" stroke="#222" stroke-width="1.0"/>
<text x="46.20" y="250.10" font-size="7.14" font-weight="bold" fill="#111" stroke="#111" stroke-width="0.2" textLength="6.60" lengthAdjust="spacingAndGlyphs">40</text>
<line x1="54.10" y1="286.90" x2="56.30" y2="286.90" stroke="#222" stroke-width="1.0"/>
<text x="46.20" y="289.70" font-size="7.14" font-weight="bold" fill="#111" stroke="#111" stroke-width="0.2" textLength="6.60" lengthAdjust="spacingAndGlyphs">20</text>
<text transform="translate(41.00,296.80) rotate(-90)" x="0" y="0" font-size="8.4" font-weight="bold" fill="#111" stroke="#111" stroke-width="0.22" textLength="35.70" lengthAdjust="spacingAndGlyphs">Cells (%)</text>
<rect x="64.10" y="259.60" width="6.20" height="6.10" fill="#fff" stroke="#222" stroke-width="1"/>
<rect x="64.00" y="270.60" width="6.40" height="5.90" fill="#111" stroke="none" stroke-width="1"/>
<text x="74.20" y="265.00" font-size="7.77" font-weight="bold" fill="#111" stroke="#111" stroke-width="0.22" textLength="52.90" lengthAdjust="spacingAndGlyphs">AnnexinV+/PI-</text>
<text x="74.20" y="276.30" font-size="7.77" font-weight="bold" fill="#111" stroke="#111" stroke-width="0.22" textLength="53.80" lengthAdjust="spacingAndGlyphs">AnnexinV+/PI+</text>
<text x="143.40" y="265.70" font-size="7.77" font-weight="bold" fill="#111" stroke="#111" stroke-width="0.22" textLength="13.90" lengthAdjust="spacingAndGlyphs">P39</text>
<rect x="63.70" y="319.40" width="9.10" height="6.20" fill="#fff" stroke="#222" stroke-width="1.2"/>
<rect x="63.10" y="325.00" width="10.30" height="4.20" fill="#0c0c0c" stroke="none" stroke-width="1"/>
<line x1="68.25" y1="317.80" x2="68.25" y2="318.80" stroke="#111" stroke-width="1.3"/>
<line x1="66.25" y1="318.40" x2="70.25" y2="318.40" stroke="#111" stroke-width="1.3"/>
<rect x="87.20" y="320.20" width="9.10" height="6.20" fill="#fff" stroke="#222" stroke-width="1.2"/>
<rect x="86.60" y="325.80" width="10.30" height="3.40" fill="#0c0c0c" stroke="none" stroke-width="1"/>
<line x1="91.75" y1="318.60" x2="91.75" y2="319.60" stroke="#111" stroke-width="1.3"/>
<line x1="89.75" y1="319.20" x2="93.75" y2="319.20" stroke="#111" stroke-width="1.3"/>
<rect x="110.90" y="319.00" width="9.30" height="6.60" fill="#fff" stroke="#222" stroke-width="1.2"/>
<rect x="110.30" y="325.00" width="10.50" height="4.20" fill="#0c0c0c" stroke="none" stroke-width="1"/>
<line x1="115.55" y1="314.70" x2="115.55" y2="318.40" stroke="#111" stroke-width="1.3"/>
<line x1="113.55" y1="315.30" x2="117.55" y2="315.30" stroke="#111" stroke-width="1.3"/>
<rect x="135.20" y="319.00" width="8.80" height="7.40" fill="#fff" stroke="#222" stroke-width="1.2"/>
<rect x="134.60" y="325.80" width="10.00" height="3.40" fill="#0c0c0c" stroke="none" stroke-width="1"/>
<line x1="139.60" y1="315.00" x2="139.60" y2="318.40" stroke="#111" stroke-width="1.3"/>
<line x1="137.60" y1="315.60" x2="141.60" y2="315.60" stroke="#111" stroke-width="1.3"/>
<rect x="159.10" y="317.90" width="8.50" height="5.10" fill="#fff" stroke="#222" stroke-width="1.2"/>
<rect x="158.50" y="322.40" width="9.70" height="6.80" fill="#0c0c0c" stroke="none" stroke-width="1"/>
<line x1="163.35" y1="316.20" x2="163.35" y2="317.30" stroke="#111" stroke-width="1.3"/>
<line x1="161.35" y1="316.80" x2="165.35" y2="316.80" stroke="#111" stroke-width="1.3"/>
<rect x="182.90" y="316.90" width="8.30" height="5.40" fill="#fff" stroke="#222" stroke-width="1.2"/>
<rect x="182.30" y="321.70" width="9.50" height="7.50" fill="#0c0c0c" stroke="none" stroke-width="1"/>
<line x1="187.05" y1="315.30" x2="187.05" y2="316.30" stroke="#111" stroke-width="1.3"/>
<line x1="185.05" y1="315.90" x2="189.05" y2="315.90" stroke="#111" stroke-width="1.3"/>
<rect x="206.00" y="316.80" width="9.10" height="3.90" fill="#fff" stroke="#222" stroke-width="1.2"/>
<rect x="205.40" y="320.10" width="10.30" height="9.10" fill="#0c0c0c" stroke="none" stroke-width="1"/>
<line x1="210.55" y1="313.20" x2="210.55" y2="316.20" stroke="#111" stroke-width="1.3"/>
<line x1="208.55" y1="313.80" x2="212.55" y2="313.80" stroke="#111" stroke-width="1.3"/>
<rect x="230.10" y="310.20" width="8.50" height="4.60" fill="#fff" stroke="#222" stroke-width="1.2"/>
<rect x="229.50" y="314.20" width="9.70" height="15.00" fill="#0c0c0c" stroke="none" stroke-width="1"/>
<line x1="234.35" y1="308.40" x2="234.35" y2="309.60" stroke="#111" stroke-width="1.3"/>
<line x1="232.35" y1="309.00" x2="236.35" y2="309.00" stroke="#111" stroke-width="1.3"/>
<text x="66.55" y="337.60" font-size="7.35" font-weight="bold" fill="#111" stroke="#111" stroke-width="0.2" textLength="3.30" lengthAdjust="spacingAndGlyphs">0</text>
<text x="90.15" y="337.60" font-size="7.35" font-weight="bold" fill="#111" stroke="#111" stroke-width="0.2" textLength="3.30" lengthAdjust="spacingAndGlyphs">1</text>
<text x="114.15" y="337.60" font-size="7.35" font-weight="bold" fill="#111" stroke="#111" stroke-width="0.2" textLength="3.30" lengthAdjust="spacingAndGlyphs">5</text>
<text x="135.50" y="337.60" font-size="7.35" font-weight="bold" fill="#111" stroke="#111" stroke-width="0.2" textLength="6.60" lengthAdjust="spacingAndGlyphs">10</text>
<text x="161.35" y="337.60" font-size="7.35" font-weight="bold" fill="#111" stroke="#111" stroke-width="0.2" textLength="3.30" lengthAdjust="spacingAndGlyphs">0</text>
<text x="185.35" y="337.60" font-size="7.35" font-weight="bold" fill="#111" stroke="#111" stroke-width="0.2" textLength="3.30" lengthAdjust="spacingAndGlyphs">1</text>
<text x="208.85" y="337.60" font-size="7.35" font-weight="bold" fill="#111" stroke="#111" stroke-width="0.2" textLength="3.30" lengthAdjust="spacingAndGlyphs">5</text>
<text x="231.30" y="337.60" font-size="7.35" font-weight="bold" fill="#111" stroke="#111" stroke-width="0.2" textLength="6.60" lengthAdjust="spacingAndGlyphs">10</text>
<line x1="63.00" y1="340.20" x2="144.90" y2="340.20" stroke="#222" stroke-width="1.2"/>
<line x1="158.20" y1="340.20" x2="242.30" y2="340.20" stroke="#222" stroke-width="1.2"/>
<text x="92.50" y="348.80" font-size="7.35" font-weight="bold" fill="#111" stroke="#111" stroke-width="0.22" textLength="17.00" lengthAdjust="spacingAndGlyphs">day 3</text>
<text x="191.30" y="349.30" font-size="7.35" font-weight="bold" fill="#111" stroke="#111" stroke-width="0.22" textLength="17.50" lengthAdjust="spacingAndGlyphs">day 6</text>
<text x="4.50" y="338.00" font-size="7.77" font-weight="bold" fill="#111" stroke="#111" stroke-width="0.22" textLength="48.80" lengthAdjust="spacingAndGlyphs">Erlotinib (<tspan font-weight="normal" stroke-width="0">&#956;</tspan>M)</text>
<text x="271.00" y="189.50" font-size="16.6" font-weight="bold" fill="#000" stroke="#000" stroke-width="0.35" textLength="10.60" lengthAdjust="spacingAndGlyphs">E</text>
<line x1="329.30" y1="197.10" x2="329.30" y2="276.60" stroke="#222" stroke-width="1.3"/>
<line x1="329.30" y1="276.60" x2="515.00" y2="276.60" stroke="#222" stroke-width="1.3"/>
<line x1="327.30" y1="197.90" x2="329.30" y2="197.90" stroke="#222" stroke-width="1.0"/>
<text x="318.60" y="200.50" font-size="7.56" font-weight="bold" fill="#111" stroke="#111" stroke-width="0.22" textLength="8.00" lengthAdjust="spacingAndGlyphs">40</text>
<line x1="327.30" y1="237.10" x2="329.30" y2="237.10" stroke="#222" stroke-width="1.0"/>
<text x="318.60" y="239.70" font-size="7.56" font-weight="bold" fill="#111" stroke="#111" stroke-width="0.22" textLength="8.00" lengthAdjust="spacingAndGlyphs">20</text>
<text transform="translate(313.90,248.30) rotate(-90)" x="0" y="0" font-size="7.77" font-weight="bold" fill="#111" stroke="#111" stroke-width="0.22" textLength="32.60" lengthAdjust="spacingAndGlyphs">Cells (%)</text>
<rect x="339.30" y="206.80" width="6.20" height="5.90" fill="#fff" stroke="#222" stroke-width="1"/>
<rect x="339.40" y="217.30" width="6.40" height="6.90" fill="#111" stroke="none" stroke-width="1"/>
<text x="349.60" y="212.10" font-size="7.56" font-weight="bold" fill="#111" stroke="#111" stroke-width="0.22" textLength="49.40" lengthAdjust="spacingAndGlyphs">AnnexinV+/PI-</text>
<text x="349.60" y="223.70" font-size="7.56" font-weight="bold" fill="#111" stroke="#111" stroke-width="0.22" textLength="53.30" lengthAdjust="spacingAndGlyphs">AnnexinV+/PI+</text>
<text x="421.00" y="210.70" font-size="7.77" font-weight="bold" fill="#111" stroke="#111" stroke-width="0.22" textLength="18.60" lengthAdjust="spacingAndGlyphs">HL60</text>
<rect x="338.70" y="270.80" width="9.20" height="3.50" fill="#fff" stroke="#222" stroke-width="1.2"/>
<rect x="338.10" y="273.70" width="10.40" height="2.90" fill="#0c0c0c" stroke="none" stroke-width="1"/>
<line x1="343.30" y1="268.50" x2="343.30" y2="270.20" stroke="#111" stroke-width="1.3"/>
<line x1="341.30" y1="269.10" x2="345.30" y2="269.10" stroke="#111" stroke-width="1.3"/>
<rect x="362.10" y="268.90" width="9.00" height="3.40" fill="#fff" stroke="#222" stroke-width="1.2"/>
<rect x="361.50" y="271.70" width="10.20" height="4.90" fill="#0c0c0c" stroke="none" stroke-width="1"/>
<line x1="366.60" y1="266.90" x2="366.60" y2="268.30" stroke="#111" stroke-width="1.3"/>
<line x1="364.60" y1="267.50" x2="368.60" y2="267.50" stroke="#111" stroke-width="1.3"/>
<rect x="385.80" y="266.20" width="9.20" height="5.20" fill="#fff" stroke="#222" stroke-width="1.2"/>
<rect x="385.20" y="270.80" width="10.40" height="5.80" fill="#0c0c0c" stroke="none" stroke-width="1"/>
<line x1="390.40" y1="264.00" x2="390.40" y2="265.60" stroke="#111" stroke-width="1.3"/>
<line x1="388.40" y1="264.60" x2="392.40" y2="264.60" stroke="#111" stroke-width="1.3"/>
<rect x="408.60" y="265.60" width="9.50" height="5.40" fill="#fff" stroke="#222" stroke-width="1.2"/>
<rect x="408.00" y="270.40" width="10.70" height="6.20" fill="#0c0c0c" stroke="none" stroke-width="1"/>
<line x1="413.35" y1="263.00" x2="413.35" y2="265.00" stroke="#111" stroke-width="1.3"/>
<line x1="411.35" y1="263.60" x2="415.35" y2="263.60" stroke="#111" stroke-width="1.3"/>
<rect x="432.10" y="266.80" width="8.80" height="4.40" fill="#fff" stroke="#222" stroke-width="1.2"/>
<rect x="431.50" y="270.60" width="10.00" height="6.00" fill="#0c0c0c" stroke="none" stroke-width="1"/>
<line x1="436.50" y1="265.20" x2="436.50" y2="266.20" stroke="#111" stroke-width="1.3"/>
<line x1="434.50" y1="265.80" x2="438.50" y2="265.80" stroke="#111" stroke-width="1.3"/>
<rect x="455.60" y="261.40" width="9.00" height="8.20" fill="#fff" stroke="#222" stroke-width="1.2"/>
<rect x="455.00" y="269.00" width="10.20" height="7.60" fill="#0c0c0c" stroke="none" stroke-width="1"/>
<line x1="460.10" y1="260.20" x2="460.10" y2="260.80" stroke="#111" stroke-width="1.3"/>
<line x1="458.10" y1="260.80" x2="462.10" y2="260.80" stroke="#111" stroke-width="1.3"/>
<rect x="479.30" y="251.00" width="8.40" height="11.90" fill="#fff" stroke="#222" stroke-width="1.2"/>
<rect x="478.70" y="262.30" width="9.60" height="14.30" fill="#0c0c0c" stroke="none" stroke-width="1"/>
<line x1="483.50" y1="247.50" x2="483.50" y2="250.40" stroke="#111" stroke-width="1.3"/>
<line x1="481.50" y1="248.10" x2="485.50" y2="248.10" stroke="#111" stroke-width="1.3"/>
<rect x="502.90" y="239.30" width="8.50" height="7.80" fill="#fff" stroke="#222" stroke-width="1.2"/>
<rect x="502.30" y="246.50" width="9.70" height="30.10" fill="#0c0c0c" stroke="none" stroke-width="1"/>
<line x1="507.15" y1="235.80" x2="507.15" y2="238.70" stroke="#111" stroke-width="1.3"/>
<line x1="505.15" y1="236.40" x2="509.15" y2="236.40" stroke="#111" stroke-width="1.3"/>
<line x1="507.15" y1="241.50" x2="507.15" y2="246.50" stroke="#111" stroke-width="1.3"/>
<line x1="505.15" y1="242.10" x2="509.15" y2="242.10" stroke="#111" stroke-width="1.3"/>
<text x="341.05" y="285.80" font-size="7.35" font-weight="bold" fill="#111" stroke="#111" stroke-width="0.2" textLength="3.30" lengthAdjust="spacingAndGlyphs">0</text>
<text x="363.75" y="285.80" font-size="7.35" font-weight="bold" fill="#111" stroke="#111" stroke-width="0.2" textLength="3.30" lengthAdjust="spacingAndGlyphs">1</text>
<text x="388.35" y="285.80" font-size="7.35" font-weight="bold" fill="#111" stroke="#111" stroke-width="0.2" textLength="3.30" lengthAdjust="spacingAndGlyphs">5</text>
<text x="409.20" y="285.80" font-size="7.35" font-weight="bold" fill="#111" stroke="#111" stroke-width="0.2" textLength="6.60" lengthAdjust="spacingAndGlyphs">10</text>
<text x="434.15" y="285.80" font-size="7.35" font-weight="bold" fill="#111" stroke="#111" stroke-width="0.2" textLength="3.30" lengthAdjust="spacingAndGlyphs">0</text>
<text x="457.75" y="285.80" font-size="7.35" font-weight="bold" fill="#111" stroke="#111" stroke-width="0.2" textLength="3.30" lengthAdjust="spacingAndGlyphs">1</text>
<text x="482.15" y="285.80" font-size="7.35" font-weight="bold" fill="#111" stroke="#111" stroke-width="0.2" textLength="3.30" lengthAdjust="spacingAndGlyphs">5</text>
<text x="505.50" y="285.80" font-size="7.35" font-weight="bold" fill="#111" stroke="#111" stroke-width="0.2" textLength="6.60" lengthAdjust="spacingAndGlyphs">10</text>
<line x1="338.00" y1="288.20" x2="420.00" y2="288.20" stroke="#222" stroke-width="1.2"/>
<line x1="431.30" y1="288.20" x2="515.00" y2="288.20" stroke="#222" stroke-width="1.2"/>
<text x="365.50" y="297.00" font-size="7.35" font-weight="bold" fill="#111" stroke="#111" stroke-width="0.22" textLength="17.50" lengthAdjust="spacingAndGlyphs">day 3</text>
<text x="465.00" y="297.00" font-size="7.35" font-weight="bold" fill="#111" stroke="#111" stroke-width="0.22" textLength="17.00" lengthAdjust="spacingAndGlyphs">day 6</text>
<text x="278.00" y="285.50" font-size="7.77" font-weight="bold" fill="#111" stroke="#111" stroke-width="0.22" textLength="49.50" lengthAdjust="spacingAndGlyphs">Erlotinib (<tspan font-weight="normal" stroke-width="0">&#956;</tspan>M)</text>
<text x="0.70" y="380.50" font-size="16.6" font-weight="bold" fill="#000" stroke="#000" stroke-width="0.35" textLength="9.70" lengthAdjust="spacingAndGlyphs">F</text>
<line x1="57.10" y1="382.30" x2="57.10" y2="487.20" stroke="#222" stroke-width="1.4"/>
<line x1="57.10" y1="487.20" x2="247.00" y2="487.20" stroke="#222" stroke-width="1.3"/>
<line x1="54.90" y1="391.10" x2="57.10" y2="391.10" stroke="#222" stroke-width="1.0"/>
<text x="44.00" y="393.60" font-size="6.93" font-weight="bold" fill="#111" stroke="#111" stroke-width="0.2" textLength="9.80" lengthAdjust="spacingAndGlyphs">100</text>
<line x1="54.90" y1="413.10" x2="57.10" y2="413.10" stroke="#222" stroke-width="1.0"/>
<text x="46.20" y="416.30" font-size="6.93" font-weight="bold" fill="#111" stroke="#111" stroke-width="0.2" textLength="6.60" lengthAdjust="spacingAndGlyphs">80</text>
<line x1="54.90" y1="437.10" x2="57.10" y2="437.10" stroke="#222" stroke-width="1.0"/>
<text x="46.20" y="440.00" font-size="6.93" font-weight="bold" fill="#111" stroke="#111" stroke-width="0.2" textLength="6.60" lengthAdjust="spacingAndGlyphs">60</text>
<line x1="54.90" y1="458.80" x2="57.10" y2="458.80" stroke="#222" stroke-width="1.0"/>
<text x="46.20" y="461.00" font-size="6.93" font-weight="bold" fill="#111" stroke="#111" stroke-width="0.2" textLength="6.60" lengthAdjust="spacingAndGlyphs">40</text>
<line x1="54.90" y1="477.50" x2="57.10" y2="477.50" stroke="#222" stroke-width="1.0"/>
<text x="46.20" y="479.40" font-size="6.93" font-weight="bold" fill="#111" stroke="#111" stroke-width="0.2" textLength="6.60" lengthAdjust="spacingAndGlyphs">20</text>
<text transform="translate(42.20,454.20) rotate(-90)" x="0" y="0" font-size="7.98" font-weight="bold" fill="#111" stroke="#111" stroke-width="0.22" textLength="31.90" lengthAdjust="spacingAndGlyphs">Cells (%)</text>
<rect x="69.00" y="392.20" width="11.70" height="95.00" fill="#fff" stroke="#222" stroke-width="1.2"/>
<line x1="74.85" y1="388.50" x2="74.85" y2="391.60" stroke="#111" stroke-width="1.3"/>
<line x1="72.85" y1="389.10" x2="76.85" y2="389.10" stroke="#111" stroke-width="1.3"/>
<rect x="99.00" y="410.40" width="12.30" height="76.80" fill="#131313" stroke="none" stroke-width="1"/>
<line x1="105.15" y1="408.50" x2="105.15" y2="410.40" stroke="#111" stroke-width="1.3"/>
<line x1="103.15" y1="409.10" x2="107.15" y2="409.10" stroke="#111" stroke-width="1.3"/>
<rect x="129.80" y="418.10" width="12.30" height="69.10" fill="#fff" stroke="#222" stroke-width="1.2"/>
<line x1="135.95" y1="415.20" x2="135.95" y2="417.50" stroke="#111" stroke-width="1.3"/>
<line x1="133.95" y1="415.80" x2="137.95" y2="415.80" stroke="#111" stroke-width="1.3"/>
<rect x="160.10" y="429.10" width="12.10" height="58.10" fill="#131313" stroke="none" stroke-width="1"/>
<line x1="166.15" y1="427.00" x2="166.15" y2="429.10" stroke="#111" stroke-width="1.3"/>
<line x1="164.15" y1="427.60" x2="168.15" y2="427.60" stroke="#111" stroke-width="1.3"/>
<rect x="190.70" y="403.40" width="11.70" height="83.80" fill="#fff" stroke="#222" stroke-width="1.2"/>
<line x1="196.55" y1="401.20" x2="196.55" y2="402.80" stroke="#111" stroke-width="1.3"/>
<line x1="194.55" y1="401.80" x2="198.55" y2="401.80" stroke="#111" stroke-width="1.3"/>
<rect x="218.90" y="430.80" width="12.10" height="56.40" fill="#131313" stroke="none" stroke-width="1"/>
<text x="73.80" y="494.30" font-size="7.77" font-weight="bold" fill="#111" stroke="#111" stroke-width="0.22" textLength="2.40" lengthAdjust="spacingAndGlyphs">-</text>
<text x="102.40" y="496.00" font-size="7.77" font-weight="bold" fill="#111" stroke="#111" stroke-width="0.22" textLength="4.20" lengthAdjust="spacingAndGlyphs">+</text>
<text x="133.30" y="494.30" font-size="7.77" font-weight="bold" fill="#111" stroke="#111" stroke-width="0.22" textLength="2.40" lengthAdjust="spacingAndGlyphs">-</text>
<text x="164.20" y="496.00" font-size="7.77" font-weight="bold" fill="#111" stroke="#111" stroke-width="0.22" textLength="4.20" lengthAdjust="spacingAndGlyphs">+</text>
<text x="193.80" y="494.30" font-size="7.77" font-weight="bold" fill="#111" stroke="#111" stroke-width="0.22" textLength="2.40" lengthAdjust="spacingAndGlyphs">-</text>
<text x="224.20" y="496.00" font-size="7.77" font-weight="bold" fill="#111" stroke="#111" stroke-width="0.22" textLength="4.20" lengthAdjust="spacingAndGlyphs">+</text>
<line x1="68.80" y1="496.60" x2="110.00" y2="496.60" stroke="#222" stroke-width="1.2"/>
<line x1="130.00" y1="496.60" x2="171.30" y2="496.60" stroke="#222" stroke-width="1.2"/>
<line x1="190.50" y1="496.60" x2="233.00" y2="496.60" stroke="#222" stroke-width="1.2"/>
<text x="79.30" y="503.90" font-size="7.98" font-weight="bold" fill="#111" stroke="#111" stroke-width="0.22" textLength="17.20" lengthAdjust="spacingAndGlyphs">day 1</text>
<text x="139.30" y="503.90" font-size="7.98" font-weight="bold" fill="#111" stroke="#111" stroke-width="0.22" textLength="19.70" lengthAdjust="spacingAndGlyphs">day 2</text>
<text x="203.60" y="503.90" font-size="7.98" font-weight="bold" fill="#111" stroke="#111" stroke-width="0.22" textLength="17.90" lengthAdjust="spacingAndGlyphs">day 3</text>
<line x1="67.00" y1="506.60" x2="234.50" y2="506.60" stroke="#222" stroke-width="1.2"/>
<text x="143.00" y="515.00" font-size="7.98" font-weight="bold" fill="#111" stroke="#111" stroke-width="0.22" textLength="13.50" lengthAdjust="spacingAndGlyphs">KG1</text>
<text x="0.00" y="494.40" font-size="8.19" font-weight="bold" fill="#111" stroke="#111" stroke-width="0.22" textLength="54.60" lengthAdjust="spacingAndGlyphs">Erlotinib 10 <tspan font-weight="normal" stroke-width="0">&#956;</tspan>M</text>
<text x="271.20" y="330.00" font-size="16.6" font-weight="bold" fill="#000" stroke="#000" stroke-width="0.35" textLength="13.00" lengthAdjust="spacingAndGlyphs">G</text>
<line x1="327.50" y1="338.70" x2="327.50" y2="443.60" stroke="#222" stroke-width="1.3"/>
<line x1="327.50" y1="443.60" x2="518.50" y2="443.60" stroke="#222" stroke-width="1.3"/>
<line x1="325.20" y1="339.60" x2="327.50" y2="339.60" stroke="#222" stroke-width="1.0"/>
<text x="313.30" y="344.00" font-size="6.93" font-weight="bold" fill="#111" stroke="#111" stroke-width="0.2" textLength="10.00" lengthAdjust="spacingAndGlyphs">140</text>
<line x1="325.20" y1="355.30" x2="327.50" y2="355.30" stroke="#222" stroke-width="1.0"/>
<text x="313.30" y="358.90" font-size="6.93" font-weight="bold" fill="#111" stroke="#111" stroke-width="0.2" textLength="10.00" lengthAdjust="spacingAndGlyphs">120</text>
<line x1="325.20" y1="369.60" x2="327.50" y2="369.60" stroke="#222" stroke-width="1.0"/>
<text x="313.30" y="372.80" font-size="6.93" font-weight="bold" fill="#111" stroke="#111" stroke-width="0.2" textLength="10.00" lengthAdjust="spacingAndGlyphs">100</text>
<line x1="325.20" y1="385.30" x2="327.50" y2="385.30" stroke="#222" stroke-width="1.0"/>
<text x="315.00" y="388.40" font-size="6.93" font-weight="bold" fill="#111" stroke="#111" stroke-width="0.2" textLength="6.80" lengthAdjust="spacingAndGlyphs">80</text>
<line x1="325.20" y1="400.30" x2="327.50" y2="400.30" stroke="#222" stroke-width="1.0"/>
<text x="315.00" y="403.60" font-size="6.93" font-weight="bold" fill="#111" stroke="#111" stroke-width="0.2" textLength="6.80" lengthAdjust="spacingAndGlyphs">60</text>
<line x1="325.20" y1="415.90" x2="327.50" y2="415.90" stroke="#222" stroke-width="1.0"/>
<text x="315.00" y="418.70" font-size="6.93" font-weight="bold" fill="#111" stroke="#111" stroke-width="0.2" textLength="6.80" lengthAdjust="spacingAndGlyphs">40</text>
<line x1="325.20" y1="431.60" x2="327.50" y2="431.60" stroke="#222" stroke-width="1.0"/>
<text x="315.00" y="433.80" font-size="6.93" font-weight="bold" fill="#111" stroke="#111" stroke-width="0.2" textLength="6.80" lengthAdjust="spacingAndGlyphs">20</text>
<text transform="translate(309.00,411.20) rotate(-90)" x="0" y="0" font-size="7.98" font-weight="bold" fill="#111" stroke="#111" stroke-width="0.22" textLength="33.00" lengthAdjust="spacingAndGlyphs">Cells (%)</text>
<rect x="332.80" y="368.80" width="5.90" height="74.80" fill="#fff" stroke="#222" stroke-width="1.2"/>
<rect x="348.10" y="377.50" width="6.70" height="66.10" fill="#131313" stroke="none" stroke-width="1"/>
<line x1="351.45" y1="375.20" x2="351.45" y2="377.50" stroke="#111" stroke-width="1.3"/>
<line x1="349.45" y1="375.80" x2="353.45" y2="375.80" stroke="#111" stroke-width="1.3"/>
<rect x="364.40" y="394.00" width="6.20" height="49.60" fill="#fff" stroke="#222" stroke-width="1.2"/>
<rect x="380.20" y="400.80" width="6.00" height="42.80" fill="#131313" stroke="none" stroke-width="1"/>
<line x1="383.20" y1="399.20" x2="383.20" y2="400.80" stroke="#111" stroke-width="1.3"/>
<line x1="381.20" y1="399.80" x2="385.20" y2="399.80" stroke="#111" stroke-width="1.3"/>
<rect x="395.80" y="365.60" width="6.50" height="78.00" fill="#fff" stroke="#222" stroke-width="1.2"/>
<line x1="399.05" y1="360.20" x2="399.05" y2="365.00" stroke="#111" stroke-width="1.3"/>
<line x1="397.05" y1="360.80" x2="401.05" y2="360.80" stroke="#111" stroke-width="1.3"/>
<rect x="411.90" y="391.50" width="6.80" height="52.10" fill="#131313" stroke="none" stroke-width="1"/>
<line x1="415.30" y1="389.80" x2="415.30" y2="391.50" stroke="#111" stroke-width="1.3"/>
<line x1="413.30" y1="390.40" x2="417.30" y2="390.40" stroke="#111" stroke-width="1.3"/>
<rect x="427.90" y="368.70" width="6.30" height="74.90" fill="#fff" stroke="#222" stroke-width="1.2"/>
<rect x="444.00" y="376.70" width="6.20" height="66.90" fill="#131313" stroke="none" stroke-width="1"/>
<line x1="447.10" y1="369.40" x2="447.10" y2="376.70" stroke="#111" stroke-width="1.3"/>
<line x1="445.10" y1="370.00" x2="449.10" y2="370.00" stroke="#111" stroke-width="1.3"/>
<rect x="460.00" y="346.60" width="6.10" height="97.00" fill="#fff" stroke="#222" stroke-width="1.2"/>
<rect x="475.80" y="374.60" width="6.10" height="69.00" fill="#131313" stroke="none" stroke-width="1"/>
<line x1="478.85" y1="370.40" x2="478.85" y2="374.60" stroke="#111" stroke-width="1.3"/>
<line x1="476.85" y1="371.00" x2="480.85" y2="371.00" stroke="#111" stroke-width="1.3"/>
<rect x="491.80" y="378.30" width="6.10" height="65.30" fill="#fff" stroke="#222" stroke-width="1.2"/>
<line x1="494.85" y1="376.20" x2="494.85" y2="377.70" stroke="#111" stroke-width="1.3"/>
<line x1="492.85" y1="376.80" x2="496.85" y2="376.80" stroke="#111" stroke-width="1.3"/>
<rect x="507.50" y="391.50" width="6.20" height="52.10" fill="#131313" stroke="none" stroke-width="1"/>
<line x1="510.60" y1="389.20" x2="510.60" y2="391.50" stroke="#111" stroke-width="1.3"/>
<line x1="508.60" y1="389.80" x2="512.60" y2="389.80" stroke="#111" stroke-width="1.3"/>
<text x="333.90" y="449.60" font-size="7.35" font-weight="bold" fill="#111" stroke="#111" stroke-width="0.22" textLength="2.20" lengthAdjust="spacingAndGlyphs">-</text>
<text x="350.00" y="451.00" font-size="7.35" font-weight="bold" fill="#111" stroke="#111" stroke-width="0.22" textLength="4.00" lengthAdjust="spacingAndGlyphs">+</text>
<text x="365.90" y="449.60" font-size="7.35" font-weight="bold" fill="#111" stroke="#111" stroke-width="0.22" textLength="2.20" lengthAdjust="spacingAndGlyphs">-</text>
<text x="381.80" y="451.00" font-size="7.35" font-weight="bold" fill="#111" stroke="#111" stroke-width="0.22" textLength="4.00" lengthAdjust="spacingAndGlyphs">+</text>
<text x="397.70" y="449.60" font-size="7.35" font-weight="bold" fill="#111" stroke="#111" stroke-width="0.22" textLength="2.20" lengthAdjust="spacingAndGlyphs">-</text>
<text x="412.50" y="451.00" font-size="7.35" font-weight="bold" fill="#111" stroke="#111" stroke-width="0.22" textLength="4.00" lengthAdjust="spacingAndGlyphs">+</text>
<text x="428.90" y="449.60" font-size="7.35" font-weight="bold" fill="#111" stroke="#111" stroke-width="0.22" textLength="2.20" lengthAdjust="spacingAndGlyphs">-</text>
<text x="445.00" y="451.00" font-size="7.35" font-weight="bold" fill="#111" stroke="#111" stroke-width="0.22" textLength="4.00" lengthAdjust="spacingAndGlyphs">+</text>
<text x="461.40" y="449.60" font-size="7.35" font-weight="bold" fill="#111" stroke="#111" stroke-width="0.22" textLength="2.20" lengthAdjust="spacingAndGlyphs">-</text>
<text x="476.80" y="451.00" font-size="7.35" font-weight="bold" fill="#111" stroke="#111" stroke-width="0.22" textLength="4.00" lengthAdjust="spacingAndGlyphs">+</text>
<text x="492.70" y="449.60" font-size="7.35" font-weight="bold" fill="#111" stroke="#111" stroke-width="0.22" textLength="2.20" lengthAdjust="spacingAndGlyphs">-</text>
<text x="508.00" y="451.00" font-size="7.35" font-weight="bold" fill="#111" stroke="#111" stroke-width="0.22" textLength="4.00" lengthAdjust="spacingAndGlyphs">+</text>
<line x1="333.00" y1="452.60" x2="354.50" y2="452.60" stroke="#222" stroke-width="1.2"/>
<line x1="364.50" y1="452.60" x2="386.30" y2="452.60" stroke="#222" stroke-width="1.2"/>
<line x1="395.00" y1="452.60" x2="417.50" y2="452.60" stroke="#222" stroke-width="1.2"/>
<line x1="427.50" y1="452.60" x2="450.00" y2="452.60" stroke="#222" stroke-width="1.2"/>
<line x1="459.50" y1="452.60" x2="481.30" y2="452.60" stroke="#222" stroke-width="1.2"/>
<line x1="491.30" y1="452.60" x2="512.50" y2="452.60" stroke="#222" stroke-width="1.2"/>
<text x="336.30" y="461.30" font-size="7.14" font-weight="bold" fill="#111" stroke="#111" stroke-width="0.22" textLength="16.70" lengthAdjust="spacingAndGlyphs">day 1</text>
<text x="367.00" y="461.30" font-size="7.14" font-weight="bold" fill="#111" stroke="#111" stroke-width="0.22" textLength="16.80" lengthAdjust="spacingAndGlyphs">day 2</text>
<text x="397.50" y="461.30" font-size="7.14" font-weight="bold" fill="#111" stroke="#111" stroke-width="0.22" textLength="17.50" lengthAdjust="spacingAndGlyphs">day 3</text>
<text x="430.50" y="461.30" font-size="7.14" font-weight="bold" fill="#111" stroke="#111" stroke-width="0.22" textLength="16.50" lengthAdjust="spacingAndGlyphs">day 1</text>
<text x="461.30" y="461.30" font-size="7.14" font-weight="bold" fill="#111" stroke="#111" stroke-width="0.22" textLength="16.70" lengthAdjust="spacingAndGlyphs">day 2</text>
<text x="492.50" y="461.30" font-size="7.14" font-weight="bold" fill="#111" stroke="#111" stroke-width="0.22" textLength="17.00" lengthAdjust="spacingAndGlyphs">day 3</text>
<line x1="332.50" y1="463.40" x2="418.00" y2="463.40" stroke="#222" stroke-width="1.2"/>
<line x1="427.00" y1="463.40" x2="513.00" y2="463.40" stroke="#222" stroke-width="1.2"/>
<text x="369.50" y="471.60" font-size="7.35" font-weight="bold" fill="#111" stroke="#111" stroke-width="0.22" textLength="11.00" lengthAdjust="spacingAndGlyphs">P39</text>
<text x="462.00" y="471.60" font-size="7.35" font-weight="bold" fill="#111" stroke="#111" stroke-width="0.22" textLength="15.50" lengthAdjust="spacingAndGlyphs">HL60</text>
<text x="268.80" y="450.00" font-size="8.19" font-weight="bold" fill="#111" stroke="#111" stroke-width="0.22" textLength="55.00" lengthAdjust="spacingAndGlyphs">Erlotinib 10 <tspan font-weight="normal" stroke-width="0">&#956;</tspan>M</text>
</svg>
</body></html>
